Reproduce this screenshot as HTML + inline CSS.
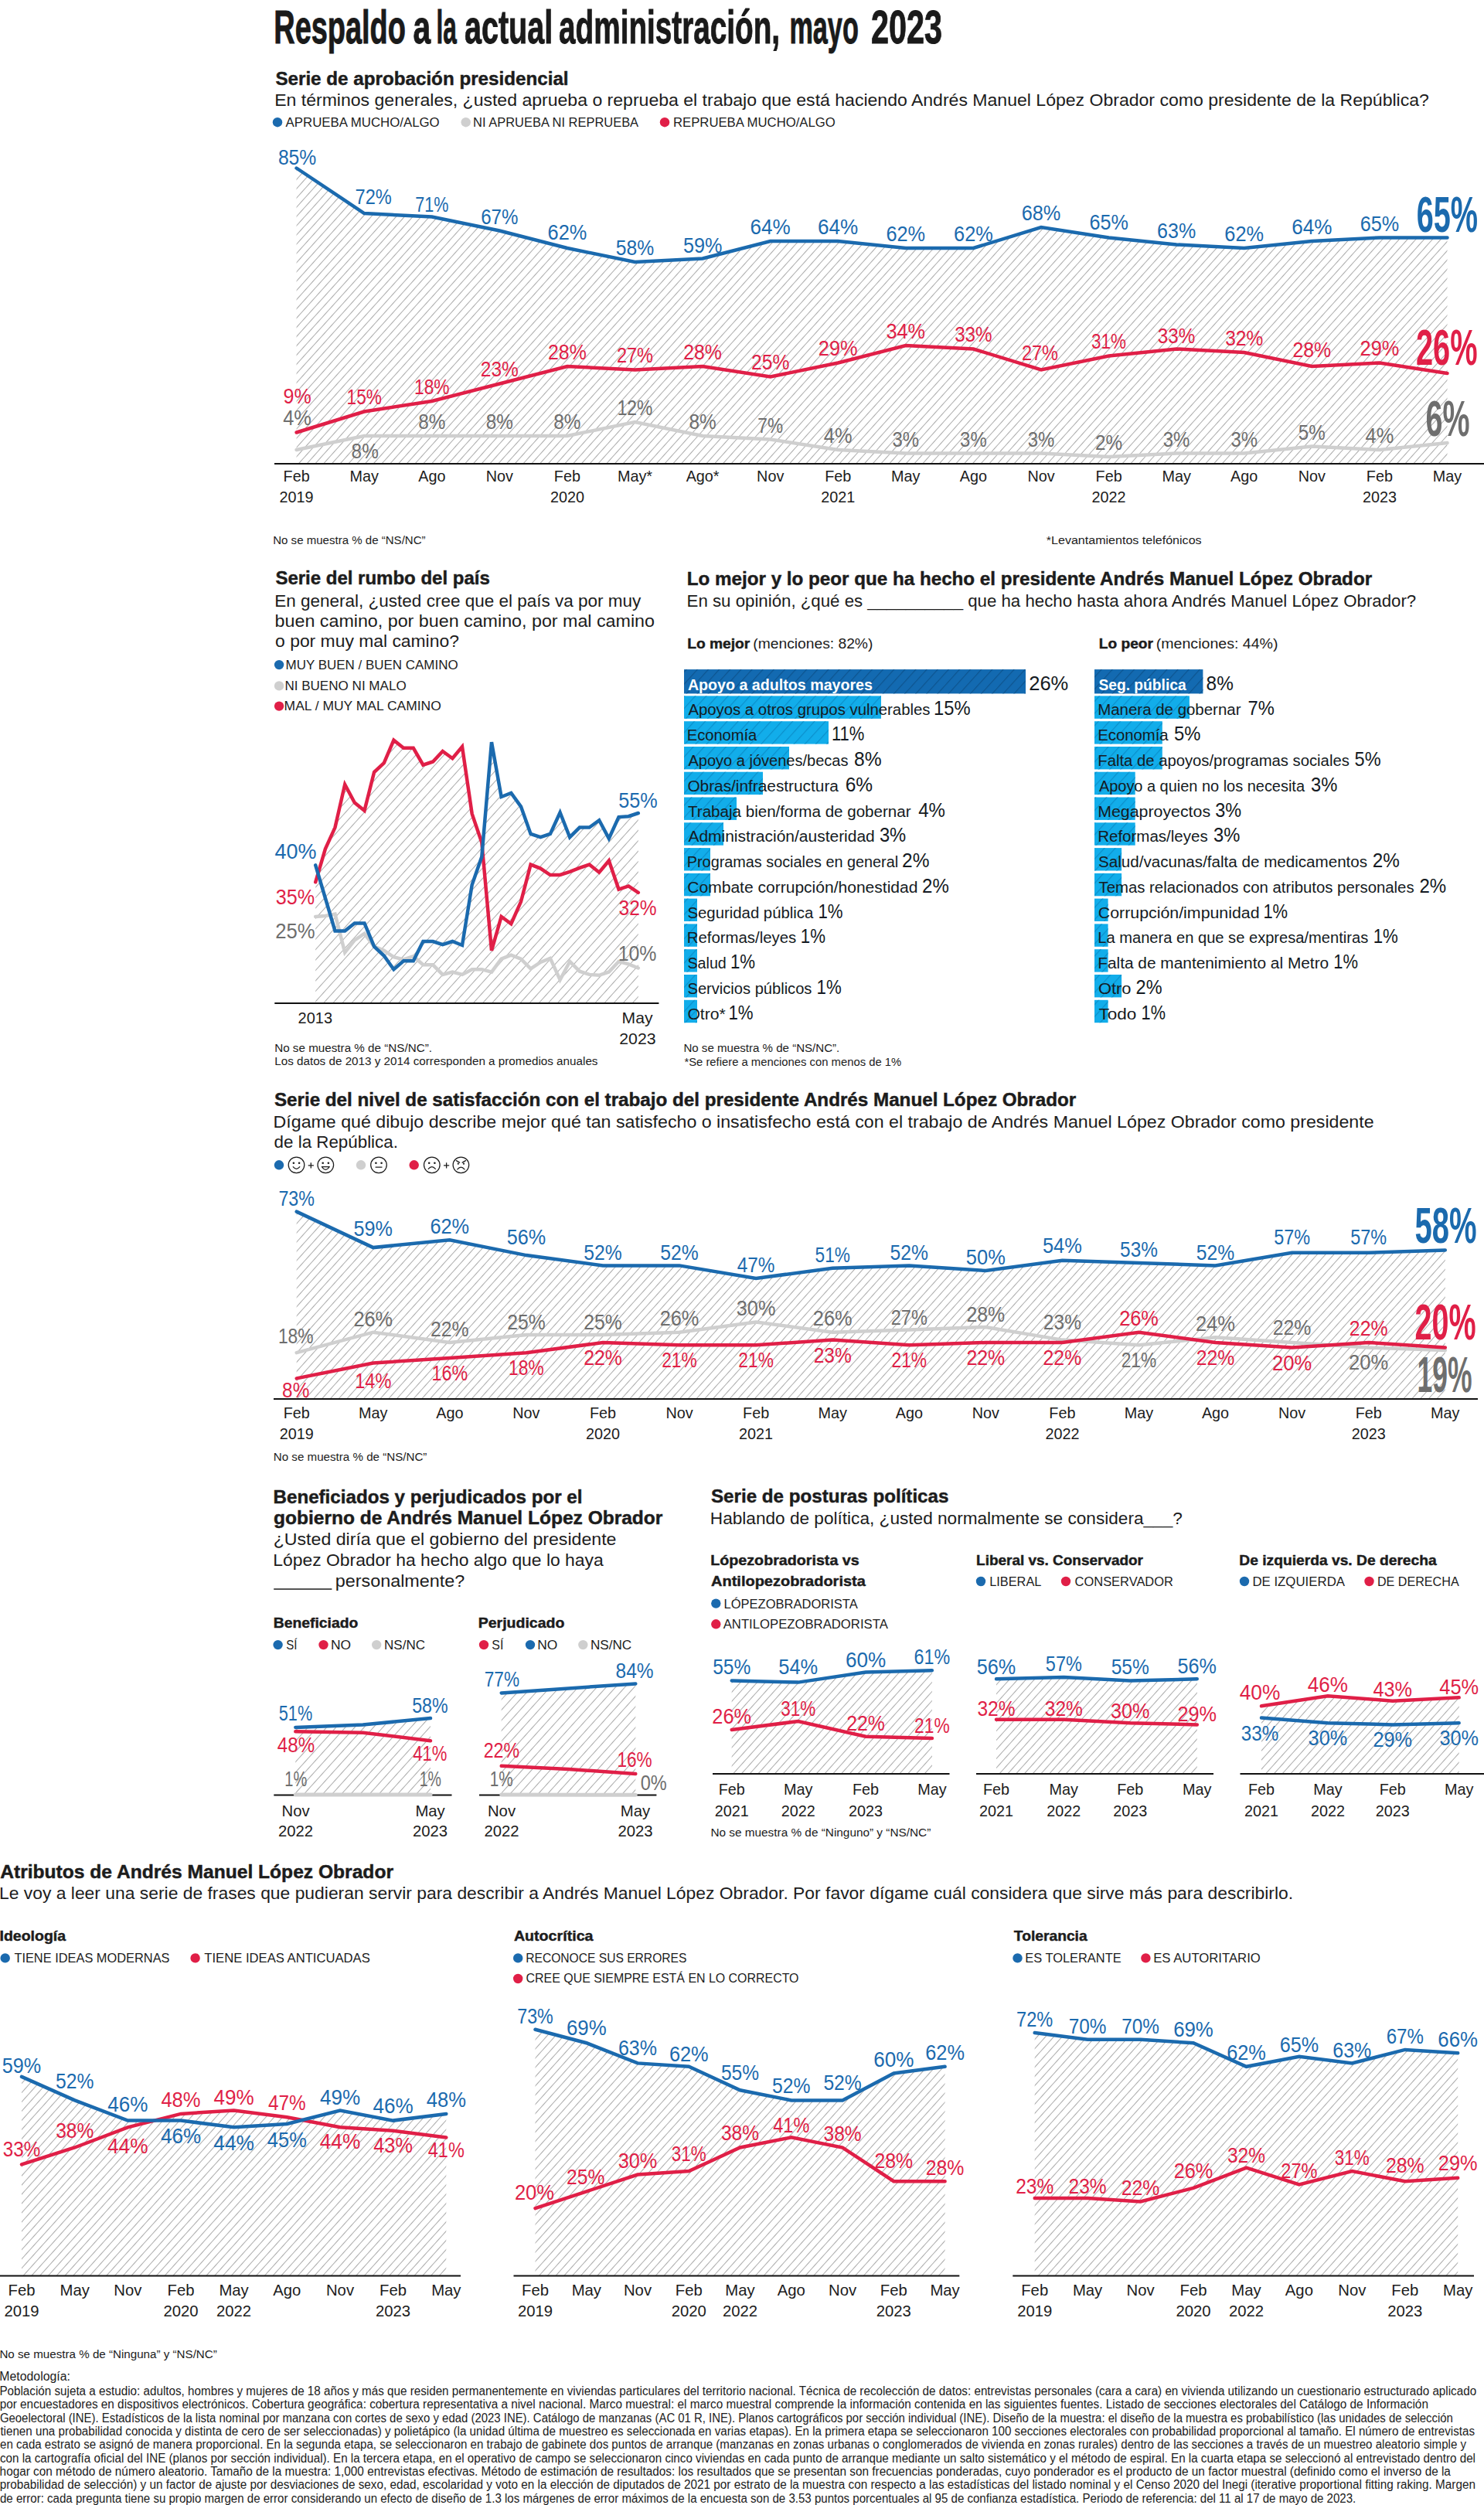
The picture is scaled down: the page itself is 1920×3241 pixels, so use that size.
<!DOCTYPE html>
<html lang="es"><head><meta charset="utf-8"><title>Respaldo a la actual administración, mayo 2023</title>
<style>
html,body{margin:0;padding:0;background:#fff}
body{width:1920px;height:3241px;overflow:hidden;position:relative}
svg{position:absolute;left:0;top:0;display:block}
svg text{font-family:"Liberation Sans",sans-serif}
</style></head><body>
<svg width="1920" height="3241" viewBox="0 0 1920 3241" fill="#1c1c1c">
<defs>
<pattern id="h" width="8" height="8" patternUnits="userSpaceOnUse" patternTransform="rotate(42)"><line x1="0.5" y1="0" x2="0.5" y2="8" stroke="#a6a6a6" stroke-width="0.95"/></pattern>
<pattern id="h2" width="9" height="9" patternUnits="userSpaceOnUse" patternTransform="rotate(42)"><line x1="0.5" y1="0" x2="0.5" y2="9" stroke="#a6a6a6" stroke-width="0.95"/></pattern>
<pattern id="hd" width="10.5" height="10.5" patternUnits="userSpaceOnUse" patternTransform="rotate(42)"><line x1="0.6" y1="0" x2="0.6" y2="10.5" stroke="#0d548f" stroke-width="1.2"/></pattern>
<pattern id="hl" width="10.5" height="10.5" patternUnits="userSpaceOnUse" patternTransform="rotate(42)"><line x1="0.6" y1="0" x2="0.6" y2="10.5" stroke="#0b8fcb" stroke-width="1.2"/></pattern>
</defs>
<text x="354.3" y="55.6" font-size="60.5" textLength="170.6" lengthAdjust="spacingAndGlyphs" font-weight="700" fill="#1a1a1a" stroke="#1a1a1a" stroke-width="1">Respaldo</text>
<text x="534.4" y="55.6" font-size="60.5" textLength="22.6" lengthAdjust="spacingAndGlyphs" font-weight="700" fill="#1a1a1a" stroke="#1a1a1a" stroke-width="1">a</text>
<text x="564.4" y="55.6" font-size="60.5" textLength="26.3" lengthAdjust="spacingAndGlyphs" font-weight="700" fill="#1a1a1a" stroke="#1a1a1a" stroke-width="1">la</text>
<text x="601.1" y="55.6" font-size="60.5" textLength="114.0" lengthAdjust="spacingAndGlyphs" font-weight="700" fill="#1a1a1a" stroke="#1a1a1a" stroke-width="1">actual</text>
<text x="723.1" y="55.6" font-size="60.5" textLength="286.0" lengthAdjust="spacingAndGlyphs" font-weight="700" fill="#1a1a1a" stroke="#1a1a1a" stroke-width="1">administración,</text>
<text x="1021.4" y="55.6" font-size="60.5" textLength="89.4" lengthAdjust="spacingAndGlyphs" font-weight="700" fill="#1a1a1a" stroke="#1a1a1a" stroke-width="1">mayo</text>
<text x="1126.9" y="55.6" font-size="60.5" textLength="92.0" lengthAdjust="spacingAndGlyphs" font-weight="700" fill="#1a1a1a" stroke="#1a1a1a" stroke-width="1">2023</text>
<text x="356.4" y="109.5" font-size="23.5" textLength="379.2" lengthAdjust="spacingAndGlyphs" font-weight="700" stroke="#1c1c1c" stroke-width="0.45">Serie de aprobación presidencial</text>
<text x="355.2" y="136.6" font-size="21.6" textLength="1493.7" lengthAdjust="spacingAndGlyphs">En términos generales, ¿usted aprueba o reprueba el trabajo que está haciendo Andrés Manuel López Obrador como presidente de la República?</text>
<circle cx="359.0" cy="158.2" r="6.2" fill="#1b6aae"/>
<text x="369.6" y="163.9" font-size="17.3" textLength="199.1" lengthAdjust="spacingAndGlyphs">APRUEBA MUCHO/ALGO</text>
<circle cx="602.7" cy="158.2" r="6.2" fill="#cfcfcf"/>
<text x="612.1" y="163.9" font-size="17.3" textLength="214.0" lengthAdjust="spacingAndGlyphs">NI APRUEBA NI REPRUEBA</text>
<circle cx="860.0" cy="158.2" r="6.2" fill="#e01f47"/>
<text x="871.0" y="163.9" font-size="17.3" textLength="209.8" lengthAdjust="spacingAndGlyphs">REPRUEBA MUCHO/ALGO</text>
<polygon points="383.6,217.5 471.2,276.0 558.8,280.5 646.3,298.5 733.9,321.0 821.5,339.0 909.1,334.5 996.7,312.0 1084.2,312.0 1171.8,321.0 1259.4,321.0 1347.0,294.0 1434.6,307.5 1522.1,316.5 1609.7,321.0 1697.3,312.0 1784.9,307.5 1872.5,307.5 1872.5,600.0 383.6,600.0" fill="url(#h)"/>
<polyline points="383.6,582.0 471.2,564.0 558.8,564.0 646.3,564.0 733.9,564.0 821.5,546.0 909.1,564.0 996.7,568.5 1084.2,582.0 1171.8,586.5 1259.4,586.5 1347.0,586.5 1434.6,591.0 1522.1,586.5 1609.7,586.5 1697.3,577.5 1784.9,582.0 1872.5,573.0" fill="none" stroke="#cfcfcf" stroke-width="4.5" stroke-linecap="round" stroke-linejoin="miter"/>
<polyline points="383.6,559.5 471.2,532.5 558.8,519.0 646.3,496.5 733.9,474.0 821.5,478.5 909.1,474.0 996.7,487.5 1084.2,469.5 1171.8,447.0 1259.4,451.5 1347.0,478.5 1434.6,460.5 1522.1,451.5 1609.7,456.0 1697.3,474.0 1784.9,469.5 1872.5,483.0" fill="none" stroke="#e01f47" stroke-width="4.5" stroke-linecap="round" stroke-linejoin="miter"/>
<polyline points="383.6,217.5 471.2,276.0 558.8,280.5 646.3,298.5 733.9,321.0 821.5,339.0 909.1,334.5 996.7,312.0 1084.2,312.0 1171.8,321.0 1259.4,321.0 1347.0,294.0 1434.6,307.5 1522.1,316.5 1609.7,321.0 1697.3,312.0 1784.9,307.5 1872.5,307.5" fill="none" stroke="#1b6aae" stroke-width="4.5" stroke-linecap="round" stroke-linejoin="miter"/>
<line x1="355.0" y1="600.0" x2="1920.0" y2="600.0" stroke="#111" stroke-width="2"/>
<text x="384.6" y="212.8" font-size="27.0" text-anchor="middle" textLength="49.4" lengthAdjust="spacingAndGlyphs" fill="#1b6aae">85%</text>
<text x="483.2" y="263.6" font-size="27.0" text-anchor="middle" textLength="47.2" lengthAdjust="spacingAndGlyphs" fill="#1b6aae">72%</text>
<text x="558.8" y="273.8" font-size="27.0" text-anchor="middle" textLength="43.1" lengthAdjust="spacingAndGlyphs" fill="#1b6aae">71%</text>
<text x="646.3" y="289.8" font-size="27.0" text-anchor="middle" textLength="48.2" lengthAdjust="spacingAndGlyphs" fill="#1b6aae">67%</text>
<text x="733.9" y="309.6" font-size="27.0" text-anchor="middle" textLength="50.7" lengthAdjust="spacingAndGlyphs" fill="#1b6aae">62%</text>
<text x="821.5" y="330.3" font-size="27.0" text-anchor="middle" textLength="49.4" lengthAdjust="spacingAndGlyphs" fill="#1b6aae">58%</text>
<text x="909.1" y="327.1" font-size="27.0" text-anchor="middle" textLength="50.4" lengthAdjust="spacingAndGlyphs" fill="#1b6aae">59%</text>
<text x="996.7" y="303.3" font-size="27.0" text-anchor="middle" textLength="52.2" lengthAdjust="spacingAndGlyphs" fill="#1b6aae">64%</text>
<text x="1084.2" y="303.3" font-size="27.0" text-anchor="middle" textLength="52.2" lengthAdjust="spacingAndGlyphs" fill="#1b6aae">64%</text>
<text x="1171.8" y="312.3" font-size="27.0" text-anchor="middle" textLength="50.7" lengthAdjust="spacingAndGlyphs" fill="#1b6aae">62%</text>
<text x="1259.4" y="312.3" font-size="27.0" text-anchor="middle" textLength="50.7" lengthAdjust="spacingAndGlyphs" fill="#1b6aae">62%</text>
<text x="1347.0" y="285.3" font-size="27.0" text-anchor="middle" textLength="50.7" lengthAdjust="spacingAndGlyphs" fill="#1b6aae">68%</text>
<text x="1434.6" y="297.4" font-size="27.0" text-anchor="middle" textLength="50.4" lengthAdjust="spacingAndGlyphs" fill="#1b6aae">65%</text>
<text x="1522.1" y="307.8" font-size="27.0" text-anchor="middle" textLength="50.1" lengthAdjust="spacingAndGlyphs" fill="#1b6aae">63%</text>
<text x="1609.7" y="312.3" font-size="27.0" text-anchor="middle" textLength="50.7" lengthAdjust="spacingAndGlyphs" fill="#1b6aae">62%</text>
<text x="1697.3" y="303.3" font-size="27.0" text-anchor="middle" textLength="52.2" lengthAdjust="spacingAndGlyphs" fill="#1b6aae">64%</text>
<text x="1784.9" y="298.8" font-size="27.0" text-anchor="middle" textLength="50.4" lengthAdjust="spacingAndGlyphs" fill="#1b6aae">65%</text>
<text x="384.6" y="521.6" font-size="27.0" text-anchor="middle" textLength="36.2" lengthAdjust="spacingAndGlyphs" fill="#e01f47">9%</text>
<text x="471.2" y="523.1" font-size="27.0" text-anchor="middle" textLength="45.3" lengthAdjust="spacingAndGlyphs" fill="#e01f47">15%</text>
<text x="558.8" y="509.6" font-size="27.0" text-anchor="middle" textLength="45.6" lengthAdjust="spacingAndGlyphs" fill="#e01f47">18%</text>
<text x="646.3" y="487.1" font-size="27.0" text-anchor="middle" textLength="49.1" lengthAdjust="spacingAndGlyphs" fill="#e01f47">23%</text>
<text x="733.9" y="464.6" font-size="27.0" text-anchor="middle" textLength="49.7" lengthAdjust="spacingAndGlyphs" fill="#e01f47">28%</text>
<text x="821.5" y="469.1" font-size="27.0" text-anchor="middle" textLength="47.2" lengthAdjust="spacingAndGlyphs" fill="#e01f47">27%</text>
<text x="909.1" y="464.6" font-size="27.0" text-anchor="middle" textLength="49.7" lengthAdjust="spacingAndGlyphs" fill="#e01f47">28%</text>
<text x="996.7" y="478.1" font-size="27.0" text-anchor="middle" textLength="49.4" lengthAdjust="spacingAndGlyphs" fill="#e01f47">25%</text>
<text x="1084.2" y="460.1" font-size="27.0" text-anchor="middle" textLength="50.7" lengthAdjust="spacingAndGlyphs" fill="#e01f47">29%</text>
<text x="1171.8" y="437.6" font-size="27.0" text-anchor="middle" textLength="50.6" lengthAdjust="spacingAndGlyphs" fill="#e01f47">34%</text>
<text x="1259.4" y="442.1" font-size="27.0" text-anchor="middle" textLength="48.5" lengthAdjust="spacingAndGlyphs" fill="#e01f47">33%</text>
<text x="1345.5" y="465.6" font-size="27.0" text-anchor="middle" textLength="47.2" lengthAdjust="spacingAndGlyphs" fill="#e01f47">27%</text>
<text x="1434.6" y="451.1" font-size="27.0" text-anchor="middle" textLength="45.0" lengthAdjust="spacingAndGlyphs" fill="#e01f47">31%</text>
<text x="1522.1" y="443.6" font-size="27.0" text-anchor="middle" textLength="48.5" lengthAdjust="spacingAndGlyphs" fill="#e01f47">33%</text>
<text x="1609.7" y="446.6" font-size="27.0" text-anchor="middle" textLength="49.1" lengthAdjust="spacingAndGlyphs" fill="#e01f47">32%</text>
<text x="1697.3" y="462.4" font-size="27.0" text-anchor="middle" textLength="49.7" lengthAdjust="spacingAndGlyphs" fill="#e01f47">28%</text>
<text x="1784.9" y="460.1" font-size="27.0" text-anchor="middle" textLength="50.7" lengthAdjust="spacingAndGlyphs" fill="#e01f47">29%</text>
<text x="384.6" y="549.6" font-size="27.0" text-anchor="middle" textLength="36.7" lengthAdjust="spacingAndGlyphs" fill="#6e6e6e">4%</text>
<text x="472.2" y="592.6" font-size="27.0" text-anchor="middle" textLength="35.2" lengthAdjust="spacingAndGlyphs" fill="#6e6e6e">8%</text>
<text x="558.8" y="555.1" font-size="27.0" text-anchor="middle" textLength="35.2" lengthAdjust="spacingAndGlyphs" fill="#6e6e6e">8%</text>
<text x="646.3" y="555.1" font-size="27.0" text-anchor="middle" textLength="35.2" lengthAdjust="spacingAndGlyphs" fill="#6e6e6e">8%</text>
<text x="733.9" y="555.1" font-size="27.0" text-anchor="middle" textLength="35.2" lengthAdjust="spacingAndGlyphs" fill="#6e6e6e">8%</text>
<text x="821.5" y="537.1" font-size="27.0" text-anchor="middle" textLength="45.6" lengthAdjust="spacingAndGlyphs" fill="#6e6e6e">12%</text>
<text x="909.1" y="555.1" font-size="27.0" text-anchor="middle" textLength="35.2" lengthAdjust="spacingAndGlyphs" fill="#6e6e6e">8%</text>
<text x="996.7" y="559.6" font-size="27.0" text-anchor="middle" textLength="32.7" lengthAdjust="spacingAndGlyphs" fill="#6e6e6e">7%</text>
<text x="1084.2" y="573.1" font-size="27.0" text-anchor="middle" textLength="36.7" lengthAdjust="spacingAndGlyphs" fill="#6e6e6e">4%</text>
<text x="1171.8" y="577.6" font-size="27.0" text-anchor="middle" textLength="34.6" lengthAdjust="spacingAndGlyphs" fill="#6e6e6e">3%</text>
<text x="1259.4" y="577.6" font-size="27.0" text-anchor="middle" textLength="34.6" lengthAdjust="spacingAndGlyphs" fill="#6e6e6e">3%</text>
<text x="1347.0" y="577.6" font-size="27.0" text-anchor="middle" textLength="34.6" lengthAdjust="spacingAndGlyphs" fill="#6e6e6e">3%</text>
<text x="1434.6" y="582.1" font-size="27.0" text-anchor="middle" textLength="35.2" lengthAdjust="spacingAndGlyphs" fill="#6e6e6e">2%</text>
<text x="1522.1" y="577.6" font-size="27.0" text-anchor="middle" textLength="34.6" lengthAdjust="spacingAndGlyphs" fill="#6e6e6e">3%</text>
<text x="1609.7" y="577.6" font-size="27.0" text-anchor="middle" textLength="34.6" lengthAdjust="spacingAndGlyphs" fill="#6e6e6e">3%</text>
<text x="1697.3" y="568.6" font-size="27.0" text-anchor="middle" textLength="34.9" lengthAdjust="spacingAndGlyphs" fill="#6e6e6e">5%</text>
<text x="1784.9" y="573.1" font-size="27.0" text-anchor="middle" textLength="36.7" lengthAdjust="spacingAndGlyphs" fill="#6e6e6e">4%</text>
<text x="1912.0" y="300.3" font-size="64" text-anchor="end" textLength="79.3" lengthAdjust="spacingAndGlyphs" font-weight="700" fill="#1b6aae">65%</text>
<text x="1911.5" y="471.5" font-size="64" text-anchor="end" textLength="79.5" lengthAdjust="spacingAndGlyphs" font-weight="700" fill="#e01f47">26%</text>
<text x="1901.5" y="564.4" font-size="64" text-anchor="end" textLength="57.0" lengthAdjust="spacingAndGlyphs" font-weight="700" fill="#6e6e6e">6%</text>
<text x="383.6" y="622.7" font-size="19.8" text-anchor="middle">Feb</text>
<text x="383.6" y="649.6" font-size="19.8" text-anchor="middle">2019</text>
<text x="471.2" y="622.7" font-size="19.8" text-anchor="middle">May</text>
<text x="558.8" y="622.7" font-size="19.8" text-anchor="middle">Ago</text>
<text x="646.3" y="622.7" font-size="19.8" text-anchor="middle">Nov</text>
<text x="733.9" y="622.7" font-size="19.8" text-anchor="middle">Feb</text>
<text x="733.9" y="649.6" font-size="19.8" text-anchor="middle">2020</text>
<text x="821.5" y="622.7" font-size="19.8" text-anchor="middle">May*</text>
<text x="909.1" y="622.7" font-size="19.8" text-anchor="middle">Ago*</text>
<text x="996.7" y="622.7" font-size="19.8" text-anchor="middle">Nov</text>
<text x="1084.2" y="622.7" font-size="19.8" text-anchor="middle">Feb</text>
<text x="1084.2" y="649.6" font-size="19.8" text-anchor="middle">2021</text>
<text x="1171.8" y="622.7" font-size="19.8" text-anchor="middle">May</text>
<text x="1259.4" y="622.7" font-size="19.8" text-anchor="middle">Ago</text>
<text x="1347.0" y="622.7" font-size="19.8" text-anchor="middle">Nov</text>
<text x="1434.6" y="622.7" font-size="19.8" text-anchor="middle">Feb</text>
<text x="1434.6" y="649.6" font-size="19.8" text-anchor="middle">2022</text>
<text x="1522.1" y="622.7" font-size="19.8" text-anchor="middle">May</text>
<text x="1609.7" y="622.7" font-size="19.8" text-anchor="middle">Ago</text>
<text x="1697.3" y="622.7" font-size="19.8" text-anchor="middle">Nov</text>
<text x="1784.9" y="622.7" font-size="19.8" text-anchor="middle">Feb</text>
<text x="1784.9" y="649.6" font-size="19.8" text-anchor="middle">2023</text>
<text x="1872.5" y="622.7" font-size="19.8" text-anchor="middle">May</text>
<text x="353.2" y="703.6" font-size="14.7" textLength="197.4" lengthAdjust="spacingAndGlyphs">No se muestra % de “NS/NC”</text>
<text x="1353.8" y="703.6" font-size="14.7" textLength="200.8" lengthAdjust="spacingAndGlyphs">*Levantamientos telefónicos</text>
<text x="356.4" y="756.4" font-size="23.5" textLength="277.4" lengthAdjust="spacingAndGlyphs" font-weight="700" stroke="#1c1c1c" stroke-width="0.45">Serie del rumbo del país</text>
<text x="355.2" y="784.8" font-size="21.6" textLength="474.2" lengthAdjust="spacingAndGlyphs">En general, ¿usted cree que el país va por muy</text>
<text x="355.6" y="811.0" font-size="21.6" textLength="491.4" lengthAdjust="spacingAndGlyphs">buen camino, por buen camino, por mal camino</text>
<text x="356.1" y="837.2" font-size="21.6" textLength="237.8" lengthAdjust="spacingAndGlyphs">o por muy mal camino?</text>
<circle cx="361.1" cy="860.1" r="6.2" fill="#1b6aae"/>
<text x="369.6" y="865.6" font-size="17.3" textLength="223.0" lengthAdjust="spacingAndGlyphs">MUY BUEN / BUEN CAMINO</text>
<circle cx="361.1" cy="887.4" r="6.2" fill="#cfcfcf"/>
<text x="368.4" y="892.9" font-size="17.3" textLength="157.3" lengthAdjust="spacingAndGlyphs">NI BUENO NI MALO</text>
<circle cx="361.1" cy="913.6" r="6.2" fill="#e01f47"/>
<text x="367.6" y="919.0" font-size="17.3" textLength="203.2" lengthAdjust="spacingAndGlyphs">MAL / MUY MAL CAMINO</text>
<polygon points="408.2,1119.4 411.4,1130.3 420.9,1098.4 433.5,1070.6 446.2,1015.0 458.8,1038.5 471.5,1048.7 484.1,999.0 496.8,987.2 509.4,957.7 522.1,967.8 534.8,967.8 547.4,989.7 560.1,985.5 572.7,972.0 585.4,981.3 598.0,966.1 610.7,1052.9 623.3,1090.0 624.1,1099.0 636.0,960.2 648.6,1031.0 661.3,1025.9 674.0,1043.6 686.6,1079.0 699.3,1083.2 711.9,1079.0 724.6,1051.2 737.2,1083.2 749.9,1070.6 762.5,1070.6 775.2,1061.3 787.8,1084.9 800.5,1057.1 813.2,1056.2 825.8,1052.0 825.8,1298.0 408.2,1298.0" fill="url(#h2)"/>
<polyline points="408.2,1186.0 420.9,1185.0 433.5,1182.6 446.2,1232.3 458.8,1216.3 471.5,1207.8 484.1,1224.7 496.8,1229.8 509.4,1238.2 522.1,1241.5 534.8,1237.3 547.4,1248.3 560.1,1248.3 572.7,1260.9 585.4,1257.6 598.0,1260.9 610.7,1254.2 623.3,1254.2 636.0,1257.6 648.6,1240.7 661.3,1235.6 674.0,1240.7 686.6,1253.3 699.3,1244.9 711.9,1239.9 724.6,1267.7 737.2,1244.0 749.9,1256.7 762.5,1260.9 775.2,1261.8 787.8,1257.5 800.5,1244.0 813.2,1247.4 825.8,1252.5" fill="none" stroke="#cfcfcf" stroke-width="4.5" stroke-linecap="round" stroke-linejoin="miter"/>
<polyline points="408.2,1141.3 420.9,1098.4 433.5,1070.6 446.2,1015.0 458.8,1038.5 471.5,1048.7 484.1,999.0 496.8,987.2 509.4,957.7 522.1,967.8 534.8,967.8 547.4,989.7 560.1,985.5 572.7,972.0 585.4,981.3 598.0,966.1 610.7,1052.9 623.3,1090.0 636.0,1229.8 648.6,1186.0 661.3,1195.2 674.0,1166.6 686.6,1118.6 699.3,1123.6 711.9,1132.0 724.6,1132.0 737.2,1127.8 749.9,1122.8 762.5,1118.6 775.2,1128.7 787.8,1113.5 800.5,1150.6 813.2,1146.4 825.8,1154.8" fill="none" stroke="#e01f47" stroke-width="4.5" stroke-linecap="round" stroke-linejoin="miter"/>
<polyline points="408.2,1119.4 420.9,1162.0 433.5,1204.5 446.2,1204.5 458.8,1194.4 471.5,1194.4 484.1,1224.7 496.8,1236.5 509.4,1254.2 522.1,1243.2 534.8,1243.2 547.4,1218.0 560.1,1218.0 572.7,1222.2 585.4,1218.0 598.0,1223.0 610.7,1144.7 623.3,1108.5 636.0,960.2 648.6,1031.0 661.3,1025.9 674.0,1043.6 686.6,1079.0 699.3,1083.2 711.9,1079.0 724.6,1051.2 737.2,1083.2 749.9,1070.6 762.5,1070.6 775.2,1061.3 787.8,1084.9 800.5,1057.1 813.2,1056.2 825.8,1052.0" fill="none" stroke="#1b6aae" stroke-width="4.5" stroke-linecap="round" stroke-linejoin="miter"/>
<line x1="355.3" y1="1298.0" x2="852.4" y2="1298.0" stroke="#111" stroke-width="2"/>
<text x="355.5" y="1110.9" font-size="27.0" textLength="54.0" lengthAdjust="spacingAndGlyphs" fill="#1b6aae">40%</text>
<text x="356.7" y="1169.8" font-size="27.0" textLength="50.4" lengthAdjust="spacingAndGlyphs" fill="#e01f47">35%</text>
<text x="356.3" y="1214.2" font-size="27.0" textLength="51.4" lengthAdjust="spacingAndGlyphs" fill="#6e6e6e">25%</text>
<text x="800.2" y="1045.0" font-size="27.0" textLength="50.5" lengthAdjust="spacingAndGlyphs" fill="#1b6aae">55%</text>
<text x="800.5" y="1184.0" font-size="27.0" textLength="49.1" lengthAdjust="spacingAndGlyphs" fill="#e01f47">32%</text>
<text x="799.7" y="1243.0" font-size="27.0" textLength="49.8" lengthAdjust="spacingAndGlyphs" fill="#6e6e6e">10%</text>
<text x="385.6" y="1324.3" font-size="19.8" textLength="44.4" lengthAdjust="spacingAndGlyphs">2013</text>
<text x="804.6" y="1324.3" font-size="19.8" textLength="39.9" lengthAdjust="spacingAndGlyphs">May</text>
<text x="801.3" y="1351.4" font-size="19.8" textLength="47.3" lengthAdjust="spacingAndGlyphs">2023</text>
<text x="355.2" y="1361.2" font-size="14.7" textLength="203.8" lengthAdjust="spacingAndGlyphs">No se muestra % de “NS/NC”.</text>
<text x="355.2" y="1377.9" font-size="14.7" textLength="418.3" lengthAdjust="spacingAndGlyphs">Los datos de 2013 y 2014 corresponden a promedios anuales</text>
<text x="888.8" y="757.0" font-size="23.5" textLength="886.3" lengthAdjust="spacingAndGlyphs" font-weight="700" stroke="#1c1c1c" stroke-width="0.45">Lo mejor y lo peor que ha hecho el presidente Andrés Manuel López Obrador</text>
<text x="888.6" y="784.9" font-size="21.6" textLength="943.6" lengthAdjust="spacingAndGlyphs">En su opinión, ¿qué es __________ que ha hecho hasta ahora Andrés Manuel López Obrador?</text>
<text x="889.2" y="839.3" font-size="18.8" textLength="81.1" lengthAdjust="spacingAndGlyphs" font-weight="700" stroke="#1c1c1c" stroke-width="0.45">Lo mejor</text>
<text x="974.3" y="839.3" font-size="18.8" textLength="155.1" lengthAdjust="spacingAndGlyphs">(menciones: 82%)</text>
<text x="1421.8" y="839.3" font-size="18.8" textLength="70.2" lengthAdjust="spacingAndGlyphs" font-weight="700" stroke="#1c1c1c" stroke-width="0.45">Lo peor</text>
<text x="1495.8" y="839.3" font-size="18.8" textLength="157.7" lengthAdjust="spacingAndGlyphs">(menciones: 44%)</text>
<rect x="885.0" y="866.1" width="442.0" height="31.3" fill="#136ab1"/>
<rect x="885.0" y="866.1" width="442.0" height="31.3" fill="url(#hd)"/>
<text x="889.9" y="892.8" font-size="19.7" textLength="239.1" lengthAdjust="spacingAndGlyphs" font-weight="700" fill="#fff">Apoyo a adultos mayores</text>
<text x="1331.2" y="892.8" font-size="26" textLength="51.1" lengthAdjust="spacingAndGlyphs" fill="#141a22">26%</text>
<rect x="885.0" y="900.4" width="255.0" height="29.4" fill="#12adea"/>
<rect x="885.0" y="900.4" width="255.0" height="29.4" fill="url(#hl)"/>
<text x="890.4" y="925.4" font-size="19.7" textLength="313.1" lengthAdjust="spacingAndGlyphs" fill="#141a22">Apoyos a otros grupos vulnerables</text>
<text x="1208.1" y="925.4" font-size="26" textLength="47.5" lengthAdjust="spacingAndGlyphs" fill="#141a22">15%</text>
<rect x="885.0" y="933.2" width="187.0" height="29.4" fill="#12adea"/>
<rect x="885.0" y="933.2" width="187.0" height="29.4" fill="url(#hl)"/>
<text x="888.8" y="958.2" font-size="19.7" textLength="90.5" lengthAdjust="spacingAndGlyphs" fill="#141a22">Economía</text>
<text x="1075.9" y="958.2" font-size="26" textLength="42.4" lengthAdjust="spacingAndGlyphs" fill="#141a22">11%</text>
<rect x="885.0" y="966.0" width="136.0" height="29.4" fill="#12adea"/>
<rect x="885.0" y="966.0" width="136.0" height="29.4" fill="url(#hl)"/>
<text x="890.4" y="991.0" font-size="19.7" textLength="207.1" lengthAdjust="spacingAndGlyphs" fill="#141a22">Apoyo a jóvenes/becas</text>
<text x="1105.1" y="991.0" font-size="26" textLength="35.6" lengthAdjust="spacingAndGlyphs" fill="#141a22">8%</text>
<rect x="885.0" y="998.7" width="102.0" height="29.4" fill="#12adea"/>
<rect x="885.0" y="998.7" width="102.0" height="29.4" fill="url(#hl)"/>
<text x="889.4" y="1023.7" font-size="19.7" textLength="195.5" lengthAdjust="spacingAndGlyphs" fill="#141a22">Obras/infraestructura</text>
<text x="1093.7" y="1023.7" font-size="26" textLength="35.4" lengthAdjust="spacingAndGlyphs" fill="#141a22">6%</text>
<rect x="885.0" y="1031.5" width="68.0" height="29.4" fill="#12adea"/>
<rect x="885.0" y="1031.5" width="68.0" height="29.4" fill="url(#hl)"/>
<text x="890.0" y="1056.5" font-size="19.7" textLength="288.6" lengthAdjust="spacingAndGlyphs" fill="#141a22">Trabaja bien/forma de gobernar</text>
<text x="1188.2" y="1056.5" font-size="26" textLength="34.7" lengthAdjust="spacingAndGlyphs" fill="#141a22">4%</text>
<rect x="885.0" y="1064.3" width="51.0" height="29.4" fill="#12adea"/>
<rect x="885.0" y="1064.3" width="51.0" height="29.4" fill="url(#hl)"/>
<text x="890.4" y="1089.3" font-size="19.7" textLength="241.4" lengthAdjust="spacingAndGlyphs" fill="#141a22">Administración/austeridad</text>
<text x="1137.9" y="1089.3" font-size="26" textLength="34.3" lengthAdjust="spacingAndGlyphs" fill="#141a22">3%</text>
<rect x="885.0" y="1097.1" width="34.0" height="29.4" fill="#12adea"/>
<rect x="885.0" y="1097.1" width="34.0" height="29.4" fill="url(#hl)"/>
<text x="888.8" y="1122.1" font-size="19.7" textLength="273.3" lengthAdjust="spacingAndGlyphs" fill="#141a22">Programas sociales en general</text>
<text x="1167.1" y="1122.1" font-size="26" textLength="35.4" lengthAdjust="spacingAndGlyphs" fill="#141a22">2%</text>
<rect x="885.0" y="1129.9" width="34.0" height="29.4" fill="#12adea"/>
<rect x="885.0" y="1129.9" width="34.0" height="29.4" fill="url(#hl)"/>
<text x="889.3" y="1154.9" font-size="19.7" textLength="298.1" lengthAdjust="spacingAndGlyphs" fill="#141a22">Combate corrupción/honestidad</text>
<text x="1193.1" y="1154.9" font-size="26" textLength="34.7" lengthAdjust="spacingAndGlyphs" fill="#141a22">2%</text>
<rect x="885.0" y="1162.6" width="17.0" height="29.4" fill="#12adea"/>
<rect x="885.0" y="1162.6" width="17.0" height="29.4" fill="url(#hl)"/>
<text x="889.5" y="1187.6" font-size="19.7" textLength="162.8" lengthAdjust="spacingAndGlyphs" fill="#141a22">Seguridad pública</text>
<text x="1058.5" y="1187.6" font-size="26" textLength="32.1" lengthAdjust="spacingAndGlyphs" fill="#141a22">1%</text>
<rect x="885.0" y="1195.4" width="17.0" height="29.4" fill="#12adea"/>
<rect x="885.0" y="1195.4" width="17.0" height="29.4" fill="url(#hl)"/>
<text x="888.8" y="1220.4" font-size="19.7" textLength="141.4" lengthAdjust="spacingAndGlyphs" fill="#141a22">Reformas/leyes</text>
<text x="1035.8" y="1220.4" font-size="26" textLength="32.1" lengthAdjust="spacingAndGlyphs" fill="#141a22">1%</text>
<rect x="885.0" y="1228.2" width="17.0" height="29.4" fill="#12adea"/>
<rect x="885.0" y="1228.2" width="17.0" height="29.4" fill="url(#hl)"/>
<text x="889.5" y="1253.2" font-size="19.7" textLength="50.3" lengthAdjust="spacingAndGlyphs" fill="#141a22">Salud</text>
<text x="945.0" y="1253.2" font-size="26" textLength="32.1" lengthAdjust="spacingAndGlyphs" fill="#141a22">1%</text>
<rect x="885.0" y="1261.0" width="17.0" height="29.4" fill="#12adea"/>
<rect x="885.0" y="1261.0" width="17.0" height="29.4" fill="url(#hl)"/>
<text x="889.5" y="1286.0" font-size="19.7" textLength="160.9" lengthAdjust="spacingAndGlyphs" fill="#141a22">Servicios públicos</text>
<text x="1056.6" y="1286.0" font-size="26" textLength="32.1" lengthAdjust="spacingAndGlyphs" fill="#141a22">1%</text>
<rect x="885.0" y="1293.8" width="17.0" height="29.4" fill="#12adea"/>
<rect x="885.0" y="1293.8" width="17.0" height="29.4" fill="url(#hl)"/>
<text x="889.4" y="1318.8" font-size="19.7" textLength="49.4" lengthAdjust="spacingAndGlyphs" fill="#141a22">Otro*</text>
<text x="942.5" y="1318.8" font-size="26" textLength="32.1" lengthAdjust="spacingAndGlyphs" fill="#141a22">1%</text>
<rect x="1416.0" y="866.1" width="140.4" height="31.3" fill="#136ab1"/>
<rect x="1416.0" y="866.1" width="140.4" height="31.3" fill="url(#hd)"/>
<text x="1421.4" y="892.8" font-size="19.7" textLength="113.3" lengthAdjust="spacingAndGlyphs" font-weight="700" fill="#fff">Seg. pública</text>
<text x="1560.6" y="892.8" font-size="26" textLength="35.2" lengthAdjust="spacingAndGlyphs" fill="#141a22">8%</text>
<rect x="1416.0" y="900.4" width="122.9" height="29.4" fill="#12adea"/>
<rect x="1416.0" y="900.4" width="122.9" height="29.4" fill="url(#hl)"/>
<text x="1420.2" y="925.4" font-size="19.7" textLength="185.3" lengthAdjust="spacingAndGlyphs" fill="#141a22">Manera de gobernar</text>
<text x="1614.5" y="925.4" font-size="26" textLength="34.3" lengthAdjust="spacingAndGlyphs" fill="#141a22">7%</text>
<rect x="1416.0" y="933.2" width="87.8" height="29.4" fill="#12adea"/>
<rect x="1416.0" y="933.2" width="87.8" height="29.4" fill="url(#hl)"/>
<text x="1420.3" y="958.2" font-size="19.7" textLength="91.3" lengthAdjust="spacingAndGlyphs" fill="#141a22">Economía</text>
<text x="1519.1" y="958.2" font-size="26" textLength="34.4" lengthAdjust="spacingAndGlyphs" fill="#141a22">5%</text>
<rect x="1416.0" y="966.0" width="87.8" height="29.4" fill="#12adea"/>
<rect x="1416.0" y="966.0" width="87.8" height="29.4" fill="url(#hl)"/>
<text x="1420.3" y="991.0" font-size="19.7" textLength="325.5" lengthAdjust="spacingAndGlyphs" fill="#141a22">Falta de apoyos/programas sociales</text>
<text x="1752.6" y="991.0" font-size="26" textLength="34.0" lengthAdjust="spacingAndGlyphs" fill="#141a22">5%</text>
<rect x="1416.0" y="998.7" width="52.7" height="29.4" fill="#12adea"/>
<rect x="1416.0" y="998.7" width="52.7" height="29.4" fill="url(#hl)"/>
<text x="1421.9" y="1023.7" font-size="19.7" textLength="266.1" lengthAdjust="spacingAndGlyphs" fill="#141a22">Apoyo a quien no los necesita</text>
<text x="1696.0" y="1023.7" font-size="26" textLength="34.3" lengthAdjust="spacingAndGlyphs" fill="#141a22">3%</text>
<rect x="1416.0" y="1031.5" width="52.7" height="29.4" fill="#12adea"/>
<rect x="1416.0" y="1031.5" width="52.7" height="29.4" fill="url(#hl)"/>
<text x="1420.2" y="1056.5" font-size="19.7" textLength="145.9" lengthAdjust="spacingAndGlyphs" fill="#141a22">Megaproyectos</text>
<text x="1572.3" y="1056.5" font-size="26" textLength="33.9" lengthAdjust="spacingAndGlyphs" fill="#141a22">3%</text>
<rect x="1416.0" y="1064.3" width="52.7" height="29.4" fill="#12adea"/>
<rect x="1416.0" y="1064.3" width="52.7" height="29.4" fill="url(#hl)"/>
<text x="1420.2" y="1089.3" font-size="19.7" textLength="142.5" lengthAdjust="spacingAndGlyphs" fill="#141a22">Reformas/leyes</text>
<text x="1570.0" y="1089.3" font-size="26" textLength="34.3" lengthAdjust="spacingAndGlyphs" fill="#141a22">3%</text>
<rect x="1416.0" y="1097.1" width="35.1" height="29.4" fill="#12adea"/>
<rect x="1416.0" y="1097.1" width="35.1" height="29.4" fill="url(#hl)"/>
<text x="1421.0" y="1122.1" font-size="19.7" textLength="348.1" lengthAdjust="spacingAndGlyphs" fill="#141a22">Salud/vacunas/falta de medicamentos</text>
<text x="1775.7" y="1122.1" font-size="26" textLength="35.1" lengthAdjust="spacingAndGlyphs" fill="#141a22">2%</text>
<rect x="1416.0" y="1129.9" width="35.1" height="29.4" fill="#12adea"/>
<rect x="1416.0" y="1129.9" width="35.1" height="29.4" fill="url(#hl)"/>
<text x="1421.5" y="1154.9" font-size="19.7" textLength="408.1" lengthAdjust="spacingAndGlyphs" fill="#141a22">Temas relacionados con atributos personales</text>
<text x="1836.5" y="1154.9" font-size="26" textLength="34.7" lengthAdjust="spacingAndGlyphs" fill="#141a22">2%</text>
<rect x="1416.0" y="1162.6" width="17.6" height="29.4" fill="#12adea"/>
<rect x="1416.0" y="1162.6" width="17.6" height="29.4" fill="url(#hl)"/>
<text x="1420.8" y="1187.6" font-size="19.7" textLength="208.8" lengthAdjust="spacingAndGlyphs" fill="#141a22">Corrupción/impunidad</text>
<text x="1634.4" y="1187.6" font-size="26" textLength="31.7" lengthAdjust="spacingAndGlyphs" fill="#141a22">1%</text>
<rect x="1416.0" y="1195.4" width="17.6" height="29.4" fill="#12adea"/>
<rect x="1416.0" y="1195.4" width="17.6" height="29.4" fill="url(#hl)"/>
<text x="1420.3" y="1220.4" font-size="19.7" textLength="349.9" lengthAdjust="spacingAndGlyphs" fill="#141a22">La manera en que se expresa/mentiras</text>
<text x="1776.7" y="1220.4" font-size="26" textLength="32.1" lengthAdjust="spacingAndGlyphs" fill="#141a22">1%</text>
<rect x="1416.0" y="1228.2" width="17.6" height="29.4" fill="#12adea"/>
<rect x="1416.0" y="1228.2" width="17.6" height="29.4" fill="url(#hl)"/>
<text x="1420.2" y="1253.2" font-size="19.7" textLength="299.0" lengthAdjust="spacingAndGlyphs" fill="#141a22">Falta de mantenimiento al Metro</text>
<text x="1725.2" y="1253.2" font-size="26" textLength="31.7" lengthAdjust="spacingAndGlyphs" fill="#141a22">1%</text>
<rect x="1416.0" y="1261.0" width="35.1" height="29.4" fill="#12adea"/>
<rect x="1416.0" y="1261.0" width="35.1" height="29.4" fill="url(#hl)"/>
<text x="1420.9" y="1286.0" font-size="19.7" textLength="42.6" lengthAdjust="spacingAndGlyphs" fill="#141a22">Otro</text>
<text x="1469.6" y="1286.0" font-size="26" textLength="33.9" lengthAdjust="spacingAndGlyphs" fill="#141a22">2%</text>
<rect x="1416.0" y="1293.8" width="17.6" height="29.4" fill="#12adea"/>
<rect x="1416.0" y="1293.8" width="17.6" height="29.4" fill="url(#hl)"/>
<text x="1421.4" y="1318.8" font-size="19.7" textLength="48.9" lengthAdjust="spacingAndGlyphs" fill="#141a22">Todo</text>
<text x="1476.6" y="1318.8" font-size="26" textLength="31.3" lengthAdjust="spacingAndGlyphs" fill="#141a22">1%</text>
<text x="884.4" y="1361.1" font-size="14.7" textLength="201.9" lengthAdjust="spacingAndGlyphs">No se muestra % de “NS/NC”.</text>
<text x="885.4" y="1378.9" font-size="14.7" textLength="280.8" lengthAdjust="spacingAndGlyphs">*Se refiere a menciones con menos de 1%</text>
<text x="354.9" y="1430.9" font-size="23.5" textLength="1037.3" lengthAdjust="spacingAndGlyphs" font-weight="700" stroke="#1c1c1c" stroke-width="0.45">Serie del nivel de satisfacción con el trabajo del presidente Andrés Manuel López Obrador</text>
<text x="353.6" y="1458.6" font-size="21.6" textLength="1424.0" lengthAdjust="spacingAndGlyphs">Dígame qué dibujo describe mejor qué tan satisfecho o insatisfecho está con el trabajo de Andrés Manuel López Obrador como presidente</text>
<text x="354.6" y="1485.2" font-size="21.6" textLength="160.3" lengthAdjust="spacingAndGlyphs">de la República.</text>
<circle cx="361.0" cy="1507.3" r="6.2" fill="#1b6aae"/>
<g fill="none" stroke="#1c1c1c" stroke-width="1.25" stroke-linecap="round"><circle cx="383.5" cy="1507.3" r="10.3"/><circle cx="379.9" cy="1504.7" r="1.3" fill="#1c1c1c" stroke="none"/><circle cx="387.1" cy="1504.7" r="1.3" fill="#1c1c1c" stroke="none"/><path d="M379.2 1509.7 Q383.5 1514.9 387.8 1509.7"/></g>
<path d="M398.7 1507.8 H405.9 M402.3 1504.2 V1511.4" stroke="#1c1c1c" stroke-width="1.3" fill="none"/>
<g fill="none" stroke="#1c1c1c" stroke-width="1.25" stroke-linecap="round"><circle cx="421.3" cy="1507.3" r="10.3"/><circle cx="417.7" cy="1504.7" r="1.3" fill="#1c1c1c" stroke="none"/><circle cx="424.9" cy="1504.7" r="1.3" fill="#1c1c1c" stroke="none"/><path d="M416.3 1509.5 Q421.3 1517.1 426.3 1509.5 Z" stroke-linejoin="round"/></g>
<circle cx="467.0" cy="1507.3" r="6.2" fill="#cfcfcf"/>
<g fill="none" stroke="#1c1c1c" stroke-width="1.25" stroke-linecap="round"><circle cx="490.0" cy="1507.3" r="10.3"/><circle cx="486.4" cy="1504.7" r="1.3" fill="#1c1c1c" stroke="none"/><circle cx="493.6" cy="1504.7" r="1.3" fill="#1c1c1c" stroke="none"/><path d="M486.0 1510.1 H494.0"/></g>
<circle cx="535.7" cy="1507.3" r="6.2" fill="#e01f47"/>
<g fill="none" stroke="#1c1c1c" stroke-width="1.25" stroke-linecap="round"><circle cx="558.8" cy="1507.3" r="10.3"/><circle cx="555.2" cy="1504.7" r="1.3" fill="#1c1c1c" stroke="none"/><circle cx="562.4" cy="1504.7" r="1.3" fill="#1c1c1c" stroke="none"/><path d="M554.2 1512.3 Q558.8 1506.7 563.4 1512.3"/></g>
<path d="M574.0 1507.8 H581.2 M577.6 1504.2 V1511.4" stroke="#1c1c1c" stroke-width="1.3" fill="none"/>
<g fill="none" stroke="#1c1c1c" stroke-width="1.25" stroke-linecap="round"><circle cx="596.4" cy="1507.3" r="10.3"/><circle cx="592.8" cy="1505.7" r="1.1" fill="#1c1c1c" stroke="none"/><circle cx="600.0" cy="1505.7" r="1.1" fill="#1c1c1c" stroke="none"/><path d="M590.4 1501.7 L594.6 1504.1 M602.4 1501.7 L598.2 1504.1" stroke-width="1.4"/><path d="M591.8 1512.9 Q596.4 1507.1 601.0 1512.9"/></g>
<polygon points="383.7,1567.6 482.8,1614.1 581.8,1604.2 680.9,1624.1 780.0,1637.4 879.0,1637.4 978.1,1654.0 1077.2,1640.7 1176.3,1637.4 1275.3,1644.0 1374.4,1630.7 1473.5,1634.0 1572.5,1637.4 1671.6,1620.8 1770.7,1620.8 1869.8,1617.4 1869.8,1810.0 383.7,1810.0" fill="url(#h)"/>
<polyline points="383.7,1750.2 482.8,1723.7 581.8,1737.0 680.9,1727.0 780.0,1727.0 879.0,1723.7 978.1,1710.4 1077.2,1723.7 1176.3,1720.4 1275.3,1717.0 1374.4,1733.6 1473.5,1740.3 1572.5,1730.3 1671.6,1737.0 1770.7,1743.6 1869.8,1746.9" fill="none" stroke="#cfcfcf" stroke-width="4.5" stroke-linecap="round" stroke-linejoin="miter"/>
<polyline points="383.7,1783.4 482.8,1763.5 581.8,1756.9 680.9,1750.2 780.0,1737.0 879.0,1740.3 978.1,1740.3 1077.2,1733.6 1176.3,1740.3 1275.3,1737.0 1374.4,1737.0 1473.5,1723.7 1572.5,1737.0 1671.6,1743.6 1770.7,1737.0 1869.8,1743.6" fill="none" stroke="#e01f47" stroke-width="4.5" stroke-linecap="round" stroke-linejoin="miter"/>
<polyline points="383.7,1567.6 482.8,1614.1 581.8,1604.2 680.9,1624.1 780.0,1637.4 879.0,1637.4 978.1,1654.0 1077.2,1640.7 1176.3,1637.4 1275.3,1644.0 1374.4,1630.7 1473.5,1634.0 1572.5,1637.4 1671.6,1620.8 1770.7,1620.8 1869.8,1617.4" fill="none" stroke="#1b6aae" stroke-width="4.5" stroke-linecap="round" stroke-linejoin="miter"/>
<line x1="354.0" y1="1810.0" x2="1912.0" y2="1810.0" stroke="#111" stroke-width="2"/>
<text x="383.7" y="1559.7" font-size="27.0" text-anchor="middle" textLength="46.6" lengthAdjust="spacingAndGlyphs" fill="#1b6aae">73%</text>
<text x="482.8" y="1598.7" font-size="27.0" text-anchor="middle" textLength="50.4" lengthAdjust="spacingAndGlyphs" fill="#1b6aae">59%</text>
<text x="581.8" y="1596.3" font-size="27.0" text-anchor="middle" textLength="50.7" lengthAdjust="spacingAndGlyphs" fill="#1b6aae">62%</text>
<text x="680.9" y="1609.7" font-size="27.0" text-anchor="middle" textLength="50.4" lengthAdjust="spacingAndGlyphs" fill="#1b6aae">56%</text>
<text x="780.0" y="1629.5" font-size="27.0" text-anchor="middle" textLength="49.4" lengthAdjust="spacingAndGlyphs" fill="#1b6aae">52%</text>
<text x="879.0" y="1629.5" font-size="27.0" text-anchor="middle" textLength="49.4" lengthAdjust="spacingAndGlyphs" fill="#1b6aae">52%</text>
<text x="978.1" y="1646.1" font-size="27.0" text-anchor="middle" textLength="48.7" lengthAdjust="spacingAndGlyphs" fill="#1b6aae">47%</text>
<text x="1077.2" y="1632.8" font-size="27.0" text-anchor="middle" textLength="45.3" lengthAdjust="spacingAndGlyphs" fill="#1b6aae">51%</text>
<text x="1176.3" y="1629.5" font-size="27.0" text-anchor="middle" textLength="49.4" lengthAdjust="spacingAndGlyphs" fill="#1b6aae">52%</text>
<text x="1275.3" y="1636.1" font-size="27.0" text-anchor="middle" textLength="50.9" lengthAdjust="spacingAndGlyphs" fill="#1b6aae">50%</text>
<text x="1374.4" y="1621.3" font-size="27.0" text-anchor="middle" textLength="50.9" lengthAdjust="spacingAndGlyphs" fill="#1b6aae">54%</text>
<text x="1473.5" y="1626.1" font-size="27.0" text-anchor="middle" textLength="48.8" lengthAdjust="spacingAndGlyphs" fill="#1b6aae">53%</text>
<text x="1572.5" y="1629.5" font-size="27.0" text-anchor="middle" textLength="49.4" lengthAdjust="spacingAndGlyphs" fill="#1b6aae">52%</text>
<text x="1671.6" y="1610.4" font-size="27.0" text-anchor="middle" textLength="46.9" lengthAdjust="spacingAndGlyphs" fill="#1b6aae">57%</text>
<text x="1770.7" y="1610.4" font-size="27.0" text-anchor="middle" textLength="46.9" lengthAdjust="spacingAndGlyphs" fill="#1b6aae">57%</text>
<text x="382.7" y="1738.2" font-size="27.0" text-anchor="middle" textLength="45.6" lengthAdjust="spacingAndGlyphs" fill="#6e6e6e">18%</text>
<text x="482.8" y="1716.3" font-size="27.0" text-anchor="middle" textLength="50.7" lengthAdjust="spacingAndGlyphs" fill="#6e6e6e">26%</text>
<text x="581.8" y="1728.6" font-size="27.0" text-anchor="middle" textLength="49.7" lengthAdjust="spacingAndGlyphs" fill="#6e6e6e">22%</text>
<text x="680.9" y="1720.0" font-size="27.0" text-anchor="middle" textLength="49.4" lengthAdjust="spacingAndGlyphs" fill="#6e6e6e">25%</text>
<text x="780.0" y="1720.0" font-size="27.0" text-anchor="middle" textLength="49.4" lengthAdjust="spacingAndGlyphs" fill="#6e6e6e">25%</text>
<text x="879.0" y="1715.3" font-size="27.0" text-anchor="middle" textLength="50.7" lengthAdjust="spacingAndGlyphs" fill="#6e6e6e">26%</text>
<text x="978.1" y="1702.0" font-size="27.0" text-anchor="middle" textLength="50.6" lengthAdjust="spacingAndGlyphs" fill="#6e6e6e">30%</text>
<text x="1077.2" y="1715.3" font-size="27.0" text-anchor="middle" textLength="50.7" lengthAdjust="spacingAndGlyphs" fill="#6e6e6e">26%</text>
<text x="1176.3" y="1713.5" font-size="27.0" text-anchor="middle" textLength="47.2" lengthAdjust="spacingAndGlyphs" fill="#6e6e6e">27%</text>
<text x="1275.3" y="1710.1" font-size="27.0" text-anchor="middle" textLength="49.7" lengthAdjust="spacingAndGlyphs" fill="#6e6e6e">28%</text>
<text x="1374.4" y="1720.2" font-size="27.0" text-anchor="middle" textLength="49.1" lengthAdjust="spacingAndGlyphs" fill="#6e6e6e">23%</text>
<text x="1473.5" y="1768.9" font-size="27.0" text-anchor="middle" textLength="45.6" lengthAdjust="spacingAndGlyphs" fill="#6e6e6e">21%</text>
<text x="1572.5" y="1721.9" font-size="27.0" text-anchor="middle" textLength="51.2" lengthAdjust="spacingAndGlyphs" fill="#6e6e6e">24%</text>
<text x="1671.6" y="1726.6" font-size="27.0" text-anchor="middle" textLength="49.7" lengthAdjust="spacingAndGlyphs" fill="#6e6e6e">22%</text>
<text x="1770.7" y="1771.7" font-size="27.0" text-anchor="middle" textLength="51.2" lengthAdjust="spacingAndGlyphs" fill="#6e6e6e">20%</text>
<text x="382.7" y="1808.0" font-size="27.0" text-anchor="middle" textLength="35.2" lengthAdjust="spacingAndGlyphs" fill="#e01f47">8%</text>
<text x="482.8" y="1795.6" font-size="27.0" text-anchor="middle" textLength="47.1" lengthAdjust="spacingAndGlyphs" fill="#e01f47">14%</text>
<text x="581.8" y="1786.0" font-size="27.0" text-anchor="middle" textLength="46.6" lengthAdjust="spacingAndGlyphs" fill="#e01f47">16%</text>
<text x="680.9" y="1779.3" font-size="27.0" text-anchor="middle" textLength="45.6" lengthAdjust="spacingAndGlyphs" fill="#e01f47">18%</text>
<text x="780.0" y="1766.1" font-size="27.0" text-anchor="middle" textLength="49.7" lengthAdjust="spacingAndGlyphs" fill="#e01f47">22%</text>
<text x="879.0" y="1769.4" font-size="27.0" text-anchor="middle" textLength="45.6" lengthAdjust="spacingAndGlyphs" fill="#e01f47">21%</text>
<text x="978.1" y="1769.4" font-size="27.0" text-anchor="middle" textLength="45.6" lengthAdjust="spacingAndGlyphs" fill="#e01f47">21%</text>
<text x="1077.2" y="1762.7" font-size="27.0" text-anchor="middle" textLength="49.1" lengthAdjust="spacingAndGlyphs" fill="#e01f47">23%</text>
<text x="1176.3" y="1769.4" font-size="27.0" text-anchor="middle" textLength="45.6" lengthAdjust="spacingAndGlyphs" fill="#e01f47">21%</text>
<text x="1275.3" y="1766.1" font-size="27.0" text-anchor="middle" textLength="49.7" lengthAdjust="spacingAndGlyphs" fill="#e01f47">22%</text>
<text x="1374.4" y="1766.1" font-size="27.0" text-anchor="middle" textLength="49.7" lengthAdjust="spacingAndGlyphs" fill="#e01f47">22%</text>
<text x="1473.5" y="1714.8" font-size="27.0" text-anchor="middle" textLength="50.7" lengthAdjust="spacingAndGlyphs" fill="#e01f47">26%</text>
<text x="1572.5" y="1766.1" font-size="27.0" text-anchor="middle" textLength="49.7" lengthAdjust="spacingAndGlyphs" fill="#e01f47">22%</text>
<text x="1671.6" y="1772.7" font-size="27.0" text-anchor="middle" textLength="51.2" lengthAdjust="spacingAndGlyphs" fill="#e01f47">20%</text>
<text x="1770.7" y="1728.1" font-size="27.0" text-anchor="middle" textLength="49.7" lengthAdjust="spacingAndGlyphs" fill="#e01f47">22%</text>
<text x="1910.5" y="1607.6" font-size="64" text-anchor="end" textLength="80.0" lengthAdjust="spacingAndGlyphs" font-weight="700" fill="#1b6aae">58%</text>
<text x="1909.5" y="1732.5" font-size="64" text-anchor="end" textLength="79.0" lengthAdjust="spacingAndGlyphs" font-weight="700" fill="#e01f47">20%</text>
<text x="1904.5" y="1801.2" font-size="64" text-anchor="end" textLength="71.0" lengthAdjust="spacingAndGlyphs" font-weight="700" fill="#6e6e6e">19%</text>
<text x="383.7" y="1835.0" font-size="19.8" text-anchor="middle">Feb</text>
<text x="383.7" y="1862.0" font-size="19.8" text-anchor="middle">2019</text>
<text x="482.8" y="1835.0" font-size="19.8" text-anchor="middle">May</text>
<text x="581.8" y="1835.0" font-size="19.8" text-anchor="middle">Ago</text>
<text x="680.9" y="1835.0" font-size="19.8" text-anchor="middle">Nov</text>
<text x="780.0" y="1835.0" font-size="19.8" text-anchor="middle">Feb</text>
<text x="780.0" y="1862.0" font-size="19.8" text-anchor="middle">2020</text>
<text x="879.0" y="1835.0" font-size="19.8" text-anchor="middle">Nov</text>
<text x="978.1" y="1835.0" font-size="19.8" text-anchor="middle">Feb</text>
<text x="978.1" y="1862.0" font-size="19.8" text-anchor="middle">2021</text>
<text x="1077.2" y="1835.0" font-size="19.8" text-anchor="middle">May</text>
<text x="1176.3" y="1835.0" font-size="19.8" text-anchor="middle">Ago</text>
<text x="1275.3" y="1835.0" font-size="19.8" text-anchor="middle">Nov</text>
<text x="1374.4" y="1835.0" font-size="19.8" text-anchor="middle">Feb</text>
<text x="1374.4" y="1862.0" font-size="19.8" text-anchor="middle">2022</text>
<text x="1473.5" y="1835.0" font-size="19.8" text-anchor="middle">May</text>
<text x="1572.5" y="1835.0" font-size="19.8" text-anchor="middle">Ago</text>
<text x="1671.6" y="1835.0" font-size="19.8" text-anchor="middle">Nov</text>
<text x="1770.7" y="1835.0" font-size="19.8" text-anchor="middle">Feb</text>
<text x="1770.7" y="1862.0" font-size="19.8" text-anchor="middle">2023</text>
<text x="1869.8" y="1835.0" font-size="19.8" text-anchor="middle">May</text>
<text x="353.8" y="1889.7" font-size="14.7" textLength="198.6" lengthAdjust="spacingAndGlyphs">No se muestra % de “NS/NC”</text>
<text x="353.5" y="1944.7" font-size="23.5" textLength="400.0" lengthAdjust="spacingAndGlyphs" font-weight="700" stroke="#1c1c1c" stroke-width="0.45">Beneficiados y perjudicados por el</text>
<text x="354.1" y="1972.3" font-size="23.5" textLength="503.3" lengthAdjust="spacingAndGlyphs" font-weight="700" stroke="#1c1c1c" stroke-width="0.45">gobierno de Andrés Manuel López Obrador</text>
<text x="353.7" y="1999.4" font-size="21.6" textLength="443.8" lengthAdjust="spacingAndGlyphs">¿Usted diría que el gobierno del presidente</text>
<text x="353.3" y="2026.2" font-size="21.6" textLength="427.4" lengthAdjust="spacingAndGlyphs">López Obrador ha hecho algo que lo haya</text>
<line x1="354.2" y1="2056" x2="429.4" y2="2056" stroke="#1c1c1c" stroke-width="1.3"/>
<text x="433.7" y="2052.6" font-size="21.6" textLength="167.6" lengthAdjust="spacingAndGlyphs">personalmente?</text>
<text x="353.8" y="2106.2" font-size="19" textLength="109.5" lengthAdjust="spacingAndGlyphs" font-weight="700" stroke="#1c1c1c" stroke-width="0.45">Beneficiado</text>
<circle cx="359.6" cy="2128.1" r="6.2" fill="#1b6aae"/>
<text x="370.3" y="2133.8" font-size="17.3" textLength="14.2" lengthAdjust="spacingAndGlyphs">SÍ</text>
<circle cx="418.5" cy="2128.1" r="6.2" fill="#e01f47"/>
<text x="428.0" y="2133.8" font-size="17.3" textLength="26.1" lengthAdjust="spacingAndGlyphs">NO</text>
<circle cx="487.2" cy="2128.1" r="6.2" fill="#cfcfcf"/>
<text x="497.1" y="2133.8" font-size="17.3" textLength="52.9" lengthAdjust="spacingAndGlyphs">NS/NC</text>
<text x="618.7" y="2106.2" font-size="19" textLength="111.7" lengthAdjust="spacingAndGlyphs" font-weight="700" stroke="#1c1c1c" stroke-width="0.45">Perjudicado</text>
<circle cx="626.0" cy="2128.1" r="6.2" fill="#e01f47"/>
<text x="636.3" y="2133.8" font-size="17.3" textLength="15.0" lengthAdjust="spacingAndGlyphs">SÍ</text>
<circle cx="686.0" cy="2128.1" r="6.2" fill="#1b6aae"/>
<text x="695.2" y="2133.8" font-size="17.3" textLength="26.1" lengthAdjust="spacingAndGlyphs">NO</text>
<circle cx="754.3" cy="2128.1" r="6.2" fill="#cfcfcf"/>
<text x="763.9" y="2133.8" font-size="17.3" textLength="53.3" lengthAdjust="spacingAndGlyphs">NS/NC</text>
<polygon points="382.3,2235.0 469.6,2231.6 557.0,2223.0 557.0,2322.5 382.3,2322.5" fill="url(#h2)"/>
<line x1="354.3" y1="2322.5" x2="584.5" y2="2322.5" stroke="#111" stroke-width="2"/>
<polyline points="382.3,2321.9 557.0,2321.9" fill="none" stroke="#cfcfcf" stroke-width="5" stroke-linecap="round" stroke-linejoin="miter"/>
<polyline points="382.3,2240.2 469.6,2241.7 557.0,2252.2" fill="none" stroke="#e01f47" stroke-width="4.5" stroke-linecap="round" stroke-linejoin="miter"/>
<polyline points="382.3,2235.0 469.6,2231.6 557.0,2223.0" fill="none" stroke="#1b6aae" stroke-width="4.5" stroke-linecap="round" stroke-linejoin="miter"/>
<text x="382.5" y="2226.2" font-size="27.0" text-anchor="middle" textLength="43.4" lengthAdjust="spacingAndGlyphs" fill="#1b6aae">51%</text>
<text x="556.4" y="2216.4" font-size="27.0" text-anchor="middle" textLength="46.4" lengthAdjust="spacingAndGlyphs" fill="#1b6aae">58%</text>
<text x="383.0" y="2266.6" font-size="27.0" text-anchor="middle" textLength="48.3" lengthAdjust="spacingAndGlyphs" fill="#e01f47">48%</text>
<text x="556.4" y="2277.9" font-size="27.0" text-anchor="middle" textLength="44.2" lengthAdjust="spacingAndGlyphs" fill="#e01f47">41%</text>
<text x="382.8" y="2310.8" font-size="27.0" text-anchor="middle" textLength="29.0" lengthAdjust="spacingAndGlyphs" fill="#6e6e6e">1%</text>
<text x="556.8" y="2310.8" font-size="27.0" text-anchor="middle" textLength="28.3" lengthAdjust="spacingAndGlyphs" fill="#6e6e6e">1%</text>
<polygon points="648.7,2190.4 735.5,2184.4 822.3,2178.4 822.3,2322.5 648.7,2322.5" fill="url(#h2)"/>
<line x1="620.0" y1="2322.5" x2="849.4" y2="2322.5" stroke="#111" stroke-width="2"/>
<polyline points="648.7,2321.9 822.3,2322.3" fill="none" stroke="#cfcfcf" stroke-width="5" stroke-linecap="round" stroke-linejoin="miter"/>
<polyline points="648.7,2284.8 735.5,2288.9 822.3,2295.1" fill="none" stroke="#e01f47" stroke-width="4.5" stroke-linecap="round" stroke-linejoin="miter"/>
<polyline points="648.7,2190.4 735.5,2184.4 822.3,2178.4" fill="none" stroke="#1b6aae" stroke-width="4.5" stroke-linecap="round" stroke-linejoin="miter"/>
<text x="649.4" y="2181.7" font-size="27.0" text-anchor="middle" textLength="45.3" lengthAdjust="spacingAndGlyphs" fill="#1b6aae">77%</text>
<text x="821.1" y="2171.1" font-size="27.0" text-anchor="middle" textLength="49.0" lengthAdjust="spacingAndGlyphs" fill="#1b6aae">84%</text>
<text x="648.9" y="2274.2" font-size="27.0" text-anchor="middle" textLength="46.4" lengthAdjust="spacingAndGlyphs" fill="#e01f47">22%</text>
<text x="821.1" y="2286.2" font-size="27.0" text-anchor="middle" textLength="45.3" lengthAdjust="spacingAndGlyphs" fill="#e01f47">16%</text>
<text x="648.7" y="2310.8" font-size="27.0" text-anchor="middle" textLength="30.0" lengthAdjust="spacingAndGlyphs" fill="#6e6e6e">1%</text>
<text x="845.7" y="2315.7" font-size="27.0" text-anchor="middle" textLength="34.0" lengthAdjust="spacingAndGlyphs" fill="#6e6e6e">0%</text>
<text x="382.6" y="2349.6" font-size="20.3" text-anchor="middle">Nov</text>
<text x="382.6" y="2376.0" font-size="20.3" text-anchor="middle">2022</text>
<text x="556.6" y="2349.6" font-size="20.3" text-anchor="middle">May</text>
<text x="556.6" y="2376.0" font-size="20.3" text-anchor="middle">2023</text>
<text x="649.0" y="2349.6" font-size="20.3" text-anchor="middle">Nov</text>
<text x="649.0" y="2376.0" font-size="20.3" text-anchor="middle">2022</text>
<text x="822.0" y="2349.6" font-size="20.3" text-anchor="middle">May</text>
<text x="822.0" y="2376.0" font-size="20.3" text-anchor="middle">2023</text>
<text x="920.0" y="1944.4" font-size="23.5" textLength="307.4" lengthAdjust="spacingAndGlyphs" font-weight="700" stroke="#1c1c1c" stroke-width="0.45">Serie de posturas políticas</text>
<text x="918.8" y="1971.9" font-size="21.6" textLength="611.0" lengthAdjust="spacingAndGlyphs">Hablando de política, ¿usted normalmente se considera___?</text>
<text x="919.3" y="2024.8" font-size="19" textLength="192.4" lengthAdjust="spacingAndGlyphs" font-weight="700" stroke="#1c1c1c" stroke-width="0.45">Lópezobradorista vs</text>
<text x="920.1" y="2052.3" font-size="19" textLength="199.7" lengthAdjust="spacingAndGlyphs" font-weight="700" stroke="#1c1c1c" stroke-width="0.45">Antilopezobradorista</text>
<circle cx="926.3" cy="2074.6" r="6.2" fill="#1b6aae"/>
<text x="936.5" y="2080.6" font-size="17.3" textLength="173.2" lengthAdjust="spacingAndGlyphs">LÓPEZOBRADORISTA</text>
<circle cx="926.3" cy="2101.3" r="6.2" fill="#e01f47"/>
<text x="935.7" y="2107.3" font-size="17.3" textLength="213.1" lengthAdjust="spacingAndGlyphs">ANTILOPEZOBRADORISTA</text>
<text x="1263.1" y="2024.8" font-size="19" textLength="215.9" lengthAdjust="spacingAndGlyphs" font-weight="700" stroke="#1c1c1c" stroke-width="0.45">Liberal vs. Conservador</text>
<circle cx="1269.0" cy="2046.0" r="6.2" fill="#1b6aae"/>
<text x="1280.2" y="2052.3" font-size="17.3" textLength="67.2" lengthAdjust="spacingAndGlyphs">LIBERAL</text>
<circle cx="1379.0" cy="2046.0" r="6.2" fill="#e01f47"/>
<text x="1390.6" y="2052.3" font-size="17.3" textLength="127.3" lengthAdjust="spacingAndGlyphs">CONSERVADOR</text>
<text x="1603.3" y="2024.8" font-size="19" textLength="255.4" lengthAdjust="spacingAndGlyphs" font-weight="700" stroke="#1c1c1c" stroke-width="0.45">De izquierda vs. De derecha</text>
<circle cx="1610.0" cy="2046.0" r="6.2" fill="#1b6aae"/>
<text x="1620.4" y="2052.3" font-size="17.3" textLength="119.6" lengthAdjust="spacingAndGlyphs">DE IZQUIERDA</text>
<circle cx="1771.5" cy="2046.0" r="6.2" fill="#e01f47"/>
<text x="1781.9" y="2052.3" font-size="17.3" textLength="105.8" lengthAdjust="spacingAndGlyphs">DE DERECHA</text>
<polygon points="946.7,2174.5 1032.7,2176.6 1120.0,2163.5 1205.9,2161.3 1205.9,2294.9 946.7,2294.9" fill="url(#h)"/>
<polyline points="946.7,2238.0 1032.7,2227.0 1120.0,2246.7 1205.9,2248.9" fill="none" stroke="#e01f47" stroke-width="4.5" stroke-linecap="round" stroke-linejoin="miter"/>
<polyline points="946.7,2174.5 1032.7,2176.6 1120.0,2163.5 1205.9,2161.3" fill="none" stroke="#1b6aae" stroke-width="4.5" stroke-linecap="round" stroke-linejoin="miter"/>
<line x1="922.0" y1="2294.9" x2="1228.5" y2="2294.9" stroke="#111" stroke-width="2"/>
<text x="946.7" y="2166.4" font-size="27.0" text-anchor="middle" textLength="49.1" lengthAdjust="spacingAndGlyphs" fill="#1b6aae">55%</text>
<text x="1032.7" y="2166.3" font-size="27.0" text-anchor="middle" textLength="50.9" lengthAdjust="spacingAndGlyphs" fill="#1b6aae">54%</text>
<text x="1120.0" y="2156.6" font-size="27.0" text-anchor="middle" textLength="52.2" lengthAdjust="spacingAndGlyphs" fill="#1b6aae">60%</text>
<text x="1205.9" y="2152.5" font-size="27.0" text-anchor="middle" textLength="46.6" lengthAdjust="spacingAndGlyphs" fill="#1b6aae">61%</text>
<text x="946.7" y="2229.9" font-size="27.0" text-anchor="middle" textLength="50.7" lengthAdjust="spacingAndGlyphs" fill="#e01f47">26%</text>
<text x="1032.7" y="2219.9" font-size="27.0" text-anchor="middle" textLength="45.0" lengthAdjust="spacingAndGlyphs" fill="#e01f47">31%</text>
<text x="1120.0" y="2239.1" font-size="27.0" text-anchor="middle" textLength="49.7" lengthAdjust="spacingAndGlyphs" fill="#e01f47">22%</text>
<text x="1205.9" y="2241.9" font-size="27.0" text-anchor="middle" textLength="45.6" lengthAdjust="spacingAndGlyphs" fill="#e01f47">21%</text>
<text x="946.7" y="2322.4" font-size="19.8" text-anchor="middle">Feb</text>
<text x="946.7" y="2349.9" font-size="19.8" text-anchor="middle">2021</text>
<text x="1032.7" y="2322.4" font-size="19.8" text-anchor="middle">May</text>
<text x="1032.7" y="2349.9" font-size="19.8" text-anchor="middle">2022</text>
<text x="1120.0" y="2322.4" font-size="19.8" text-anchor="middle">Feb</text>
<text x="1120.0" y="2349.9" font-size="19.8" text-anchor="middle">2023</text>
<text x="1205.9" y="2322.4" font-size="19.8" text-anchor="middle">May</text>
<polygon points="1289.0,2172.3 1376.3,2170.1 1462.2,2174.5 1548.8,2172.3 1548.8,2294.9 1289.0,2294.9" fill="url(#h)"/>
<polyline points="1289.0,2224.8 1376.3,2224.8 1462.2,2229.2 1548.8,2231.4" fill="none" stroke="#e01f47" stroke-width="4.5" stroke-linecap="round" stroke-linejoin="miter"/>
<polyline points="1289.0,2172.3 1376.3,2170.1 1462.2,2174.5 1548.8,2172.3" fill="none" stroke="#1b6aae" stroke-width="4.5" stroke-linecap="round" stroke-linejoin="miter"/>
<line x1="1263.0" y1="2294.9" x2="1570.0" y2="2294.9" stroke="#111" stroke-width="2"/>
<text x="1289.0" y="2166.3" font-size="27.0" text-anchor="middle" textLength="50.4" lengthAdjust="spacingAndGlyphs" fill="#1b6aae">56%</text>
<text x="1376.3" y="2161.5" font-size="27.0" text-anchor="middle" textLength="46.9" lengthAdjust="spacingAndGlyphs" fill="#1b6aae">57%</text>
<text x="1462.2" y="2166.2" font-size="27.0" text-anchor="middle" textLength="49.1" lengthAdjust="spacingAndGlyphs" fill="#1b6aae">55%</text>
<text x="1548.8" y="2164.9" font-size="27.0" text-anchor="middle" textLength="50.4" lengthAdjust="spacingAndGlyphs" fill="#1b6aae">56%</text>
<text x="1289.0" y="2219.9" font-size="27.0" text-anchor="middle" textLength="49.1" lengthAdjust="spacingAndGlyphs" fill="#e01f47">32%</text>
<text x="1376.3" y="2219.9" font-size="27.0" text-anchor="middle" textLength="49.1" lengthAdjust="spacingAndGlyphs" fill="#e01f47">32%</text>
<text x="1462.2" y="2223.3" font-size="27.0" text-anchor="middle" textLength="50.6" lengthAdjust="spacingAndGlyphs" fill="#e01f47">30%</text>
<text x="1548.8" y="2226.7" font-size="27.0" text-anchor="middle" textLength="50.7" lengthAdjust="spacingAndGlyphs" fill="#e01f47">29%</text>
<text x="1289.0" y="2322.4" font-size="19.8" text-anchor="middle">Feb</text>
<text x="1289.0" y="2349.9" font-size="19.8" text-anchor="middle">2021</text>
<text x="1376.3" y="2322.4" font-size="19.8" text-anchor="middle">May</text>
<text x="1376.3" y="2349.9" font-size="19.8" text-anchor="middle">2022</text>
<text x="1462.2" y="2322.4" font-size="19.8" text-anchor="middle">Feb</text>
<text x="1462.2" y="2349.9" font-size="19.8" text-anchor="middle">2023</text>
<text x="1548.8" y="2322.4" font-size="19.8" text-anchor="middle">May</text>
<polygon points="1632.0,2207.3 1717.9,2194.2 1801.8,2200.7 1887.7,2196.3 1887.7,2294.9 1632.0,2294.9" fill="url(#h)"/>
<polyline points="1632.0,2222.6 1717.9,2229.2 1801.8,2231.4 1887.7,2229.2" fill="none" stroke="#1b6aae" stroke-width="4.5" stroke-linecap="round" stroke-linejoin="miter"/>
<polyline points="1632.0,2207.3 1717.9,2194.2 1801.8,2200.7 1887.7,2196.3" fill="none" stroke="#e01f47" stroke-width="4.5" stroke-linecap="round" stroke-linejoin="miter"/>
<line x1="1604.5" y1="2294.9" x2="1920.0" y2="2294.9" stroke="#111" stroke-width="2"/>
<text x="1630.0" y="2199.3" font-size="27.0" text-anchor="middle" textLength="52.7" lengthAdjust="spacingAndGlyphs" fill="#e01f47">40%</text>
<text x="1717.9" y="2189.0" font-size="27.0" text-anchor="middle" textLength="52.2" lengthAdjust="spacingAndGlyphs" fill="#e01f47">46%</text>
<text x="1801.8" y="2194.5" font-size="27.0" text-anchor="middle" textLength="50.6" lengthAdjust="spacingAndGlyphs" fill="#e01f47">43%</text>
<text x="1887.7" y="2192.3" font-size="27.0" text-anchor="middle" textLength="50.9" lengthAdjust="spacingAndGlyphs" fill="#e01f47">45%</text>
<text x="1630.0" y="2252.2" font-size="27.0" text-anchor="middle" textLength="48.5" lengthAdjust="spacingAndGlyphs" fill="#1b6aae">33%</text>
<text x="1717.9" y="2257.8" font-size="27.0" text-anchor="middle" textLength="50.6" lengthAdjust="spacingAndGlyphs" fill="#1b6aae">30%</text>
<text x="1801.8" y="2259.8" font-size="27.0" text-anchor="middle" textLength="50.7" lengthAdjust="spacingAndGlyphs" fill="#1b6aae">29%</text>
<text x="1887.7" y="2257.8" font-size="27.0" text-anchor="middle" textLength="50.6" lengthAdjust="spacingAndGlyphs" fill="#1b6aae">30%</text>
<text x="1632.0" y="2322.4" font-size="19.8" text-anchor="middle">Feb</text>
<text x="1632.0" y="2349.9" font-size="19.8" text-anchor="middle">2021</text>
<text x="1717.9" y="2322.4" font-size="19.8" text-anchor="middle">May</text>
<text x="1717.9" y="2349.9" font-size="19.8" text-anchor="middle">2022</text>
<text x="1801.8" y="2322.4" font-size="19.8" text-anchor="middle">Feb</text>
<text x="1801.8" y="2349.9" font-size="19.8" text-anchor="middle">2023</text>
<text x="1887.7" y="2322.4" font-size="19.8" text-anchor="middle">May</text>
<text x="919.4" y="2376.0" font-size="14.7" textLength="284.9" lengthAdjust="spacingAndGlyphs">No se muestra % de “Ninguno” y “NS/NC”</text>
<text x="0.2" y="2430.2" font-size="23.5" textLength="508.8" lengthAdjust="spacingAndGlyphs" font-weight="700" stroke="#1c1c1c" stroke-width="0.45">Atributos de Andrés Manuel López Obrador</text>
<text x="-1.0" y="2456.9" font-size="21.6" textLength="1674.1" lengthAdjust="spacingAndGlyphs">Le voy a leer una serie de frases que pudieran servir para describir a Andrés Manuel López Obrador. Por favor dígame cuál considera que sirve más para describirlo.</text>
<text x="-0.5" y="2511.2" font-size="19" textLength="85.6" lengthAdjust="spacingAndGlyphs" font-weight="700" stroke="#1c1c1c" stroke-width="0.45">Ideología</text>
<circle cx="6.7" cy="2533.4" r="6.2" fill="#1b6aae"/>
<text x="18.4" y="2538.8" font-size="17.3" textLength="201.1" lengthAdjust="spacingAndGlyphs">TIENE IDEAS MODERNAS</text>
<circle cx="252.6" cy="2533.4" r="6.2" fill="#e01f47"/>
<text x="264.3" y="2538.8" font-size="17.3" textLength="214.5" lengthAdjust="spacingAndGlyphs">TIENE IDEAS ANTICUADAS</text>
<polygon points="28.0,2686.9 96.7,2717.4 165.3,2743.6 199.6,2743.6 234.0,2734.9 302.6,2730.5 371.3,2739.2 390.9,2743.0 440.0,2730.5 508.6,2743.6 577.3,2734.9 577.3,2944.4 28.0,2944.4" fill="url(#h)"/>
<polyline points="28.0,2800.4 96.7,2778.5 165.3,2752.3 234.0,2734.9 302.6,2730.5 371.3,2739.2 440.0,2752.3 508.6,2756.7 577.3,2765.4" fill="none" stroke="#e01f47" stroke-width="4.5" stroke-linecap="round" stroke-linejoin="miter"/>
<polyline points="28.0,2686.9 96.7,2717.4 165.3,2743.6 234.0,2743.6 302.6,2752.3 371.3,2748.0 440.0,2730.5 508.6,2743.6 577.3,2734.9" fill="none" stroke="#1b6aae" stroke-width="4.5" stroke-linecap="round" stroke-linejoin="miter"/>
<line x1="0.0" y1="2944.4" x2="596.0" y2="2944.4" stroke="#111" stroke-width="2"/>
<text x="28.0" y="2681.9" font-size="27.0" text-anchor="middle" textLength="50.4" lengthAdjust="spacingAndGlyphs" fill="#1b6aae">59%</text>
<text x="96.7" y="2701.9" font-size="27.0" text-anchor="middle" textLength="49.4" lengthAdjust="spacingAndGlyphs" fill="#1b6aae">52%</text>
<text x="165.3" y="2731.7" font-size="27.0" text-anchor="middle" textLength="52.2" lengthAdjust="spacingAndGlyphs" fill="#1b6aae">46%</text>
<text x="234.0" y="2773.1" font-size="27.0" text-anchor="middle" textLength="52.2" lengthAdjust="spacingAndGlyphs" fill="#1b6aae">46%</text>
<text x="302.6" y="2782.0" font-size="27.0" text-anchor="middle" textLength="52.7" lengthAdjust="spacingAndGlyphs" fill="#1b6aae">44%</text>
<text x="371.3" y="2778.4" font-size="27.0" text-anchor="middle" textLength="50.9" lengthAdjust="spacingAndGlyphs" fill="#1b6aae">45%</text>
<text x="440.0" y="2722.8" font-size="27.0" text-anchor="middle" textLength="52.2" lengthAdjust="spacingAndGlyphs" fill="#1b6aae">49%</text>
<text x="508.6" y="2734.4" font-size="27.0" text-anchor="middle" textLength="52.2" lengthAdjust="spacingAndGlyphs" fill="#1b6aae">46%</text>
<text x="577.3" y="2726.4" font-size="27.0" text-anchor="middle" textLength="51.2" lengthAdjust="spacingAndGlyphs" fill="#1b6aae">48%</text>
<text x="28.0" y="2790.0" font-size="27.0" text-anchor="middle" textLength="48.5" lengthAdjust="spacingAndGlyphs" fill="#e01f47">33%</text>
<text x="96.7" y="2766.4" font-size="27.0" text-anchor="middle" textLength="49.1" lengthAdjust="spacingAndGlyphs" fill="#e01f47">38%</text>
<text x="165.3" y="2786.4" font-size="27.0" text-anchor="middle" textLength="52.7" lengthAdjust="spacingAndGlyphs" fill="#e01f47">44%</text>
<text x="234.0" y="2726.4" font-size="27.0" text-anchor="middle" textLength="51.2" lengthAdjust="spacingAndGlyphs" fill="#e01f47">48%</text>
<text x="302.6" y="2722.8" font-size="27.0" text-anchor="middle" textLength="52.2" lengthAdjust="spacingAndGlyphs" fill="#e01f47">49%</text>
<text x="371.3" y="2729.9" font-size="27.0" text-anchor="middle" textLength="48.7" lengthAdjust="spacingAndGlyphs" fill="#e01f47">47%</text>
<text x="440.0" y="2779.6" font-size="27.0" text-anchor="middle" textLength="52.7" lengthAdjust="spacingAndGlyphs" fill="#e01f47">44%</text>
<text x="508.6" y="2785.0" font-size="27.0" text-anchor="middle" textLength="50.6" lengthAdjust="spacingAndGlyphs" fill="#e01f47">43%</text>
<text x="577.3" y="2790.9" font-size="27.0" text-anchor="middle" textLength="47.1" lengthAdjust="spacingAndGlyphs" fill="#e01f47">41%</text>
<text x="28.0" y="2970.0" font-size="20.3" text-anchor="middle">Feb</text>
<text x="28.0" y="2997.1" font-size="20.3" text-anchor="middle">2019</text>
<text x="96.7" y="2970.0" font-size="20.3" text-anchor="middle">May</text>
<text x="165.3" y="2970.0" font-size="20.3" text-anchor="middle">Nov</text>
<text x="234.0" y="2970.0" font-size="20.3" text-anchor="middle">Feb</text>
<text x="234.0" y="2997.1" font-size="20.3" text-anchor="middle">2020</text>
<text x="302.6" y="2970.0" font-size="20.3" text-anchor="middle">May</text>
<text x="302.6" y="2997.1" font-size="20.3" text-anchor="middle">2022</text>
<text x="371.3" y="2970.0" font-size="20.3" text-anchor="middle">Ago</text>
<text x="440.0" y="2970.0" font-size="20.3" text-anchor="middle">Nov</text>
<text x="508.6" y="2970.0" font-size="20.3" text-anchor="middle">Feb</text>
<text x="508.6" y="2997.1" font-size="20.3" text-anchor="middle">2023</text>
<text x="577.3" y="2970.0" font-size="20.3" text-anchor="middle">May</text>
<text x="664.9" y="2511.1" font-size="19" textLength="102.6" lengthAdjust="spacingAndGlyphs" font-weight="700" stroke="#1c1c1c" stroke-width="0.45">Autocrítica</text>
<circle cx="670.2" cy="2533.4" r="6.2" fill="#1b6aae"/>
<text x="680.2" y="2538.7" font-size="17.3" textLength="208.2" lengthAdjust="spacingAndGlyphs">RECONOCE SUS ERRORES</text>
<circle cx="670.2" cy="2560.0" r="6.2" fill="#e01f47"/>
<text x="680.6" y="2565.4" font-size="17.3" textLength="352.9" lengthAdjust="spacingAndGlyphs">CREE QUE SIEMPRE ESTÁ EN LO CORRECTO</text>
<polygon points="692.5,2625.8 758.8,2643.2 825.0,2669.4 891.3,2673.8 957.5,2704.3 1023.8,2717.4 1090.1,2717.4 1156.3,2682.5 1222.6,2673.8 1222.6,2944.4 692.5,2944.4" fill="url(#h)"/>
<polyline points="692.5,2857.1 758.8,2835.3 825.0,2813.5 891.3,2809.1 957.5,2778.5 1023.8,2765.4 1090.1,2778.5 1156.3,2822.2 1222.6,2822.2" fill="none" stroke="#e01f47" stroke-width="4.5" stroke-linecap="round" stroke-linejoin="miter"/>
<polyline points="692.5,2625.8 758.8,2643.2 825.0,2669.4 891.3,2673.8 957.5,2704.3 1023.8,2717.4 1090.1,2717.4 1156.3,2682.5 1222.6,2673.8" fill="none" stroke="#1b6aae" stroke-width="4.5" stroke-linecap="round" stroke-linejoin="miter"/>
<line x1="664.5" y1="2944.4" x2="1241.3" y2="2944.4" stroke="#111" stroke-width="2"/>
<text x="692.5" y="2617.6" font-size="27.0" text-anchor="middle" textLength="46.6" lengthAdjust="spacingAndGlyphs" fill="#1b6aae">73%</text>
<text x="758.8" y="2633.1" font-size="27.0" text-anchor="middle" textLength="51.7" lengthAdjust="spacingAndGlyphs" fill="#1b6aae">69%</text>
<text x="825.0" y="2659.0" font-size="27.0" text-anchor="middle" textLength="50.1" lengthAdjust="spacingAndGlyphs" fill="#1b6aae">63%</text>
<text x="891.3" y="2666.6" font-size="27.0" text-anchor="middle" textLength="50.7" lengthAdjust="spacingAndGlyphs" fill="#1b6aae">62%</text>
<text x="957.5" y="2691.0" font-size="27.0" text-anchor="middle" textLength="49.1" lengthAdjust="spacingAndGlyphs" fill="#1b6aae">55%</text>
<text x="1023.8" y="2707.5" font-size="27.0" text-anchor="middle" textLength="49.4" lengthAdjust="spacingAndGlyphs" fill="#1b6aae">52%</text>
<text x="1090.1" y="2704.4" font-size="27.0" text-anchor="middle" textLength="49.4" lengthAdjust="spacingAndGlyphs" fill="#1b6aae">52%</text>
<text x="1156.3" y="2673.8" font-size="27.0" text-anchor="middle" textLength="52.2" lengthAdjust="spacingAndGlyphs" fill="#1b6aae">60%</text>
<text x="1222.6" y="2665.1" font-size="27.0" text-anchor="middle" textLength="50.7" lengthAdjust="spacingAndGlyphs" fill="#1b6aae">62%</text>
<text x="691.5" y="2846.0" font-size="27.0" text-anchor="middle" textLength="51.2" lengthAdjust="spacingAndGlyphs" fill="#e01f47">20%</text>
<text x="757.8" y="2825.6" font-size="27.0" text-anchor="middle" textLength="49.4" lengthAdjust="spacingAndGlyphs" fill="#e01f47">25%</text>
<text x="825.0" y="2804.8" font-size="27.0" text-anchor="middle" textLength="50.6" lengthAdjust="spacingAndGlyphs" fill="#e01f47">30%</text>
<text x="891.3" y="2795.7" font-size="27.0" text-anchor="middle" textLength="45.0" lengthAdjust="spacingAndGlyphs" fill="#e01f47">31%</text>
<text x="957.5" y="2769.0" font-size="27.0" text-anchor="middle" textLength="49.1" lengthAdjust="spacingAndGlyphs" fill="#e01f47">38%</text>
<text x="1023.8" y="2758.7" font-size="27.0" text-anchor="middle" textLength="47.1" lengthAdjust="spacingAndGlyphs" fill="#e01f47">41%</text>
<text x="1090.1" y="2769.8" font-size="27.0" text-anchor="middle" textLength="49.1" lengthAdjust="spacingAndGlyphs" fill="#e01f47">38%</text>
<text x="1156.3" y="2804.6" font-size="27.0" text-anchor="middle" textLength="49.7" lengthAdjust="spacingAndGlyphs" fill="#e01f47">28%</text>
<text x="1222.6" y="2813.5" font-size="27.0" text-anchor="middle" textLength="49.7" lengthAdjust="spacingAndGlyphs" fill="#e01f47">28%</text>
<text x="692.5" y="2969.7" font-size="20.3" text-anchor="middle">Feb</text>
<text x="692.5" y="2996.9" font-size="20.3" text-anchor="middle">2019</text>
<text x="758.8" y="2969.7" font-size="20.3" text-anchor="middle">May</text>
<text x="825.0" y="2969.7" font-size="20.3" text-anchor="middle">Nov</text>
<text x="891.3" y="2969.7" font-size="20.3" text-anchor="middle">Feb</text>
<text x="891.3" y="2996.9" font-size="20.3" text-anchor="middle">2020</text>
<text x="957.5" y="2969.7" font-size="20.3" text-anchor="middle">May</text>
<text x="957.5" y="2996.9" font-size="20.3" text-anchor="middle">2022</text>
<text x="1023.8" y="2969.7" font-size="20.3" text-anchor="middle">Ago</text>
<text x="1090.1" y="2969.7" font-size="20.3" text-anchor="middle">Nov</text>
<text x="1156.3" y="2969.7" font-size="20.3" text-anchor="middle">Feb</text>
<text x="1156.3" y="2996.9" font-size="20.3" text-anchor="middle">2023</text>
<text x="1222.6" y="2969.7" font-size="20.3" text-anchor="middle">May</text>
<text x="1311.8" y="2511.1" font-size="19" textLength="94.9" lengthAdjust="spacingAndGlyphs" font-weight="700" stroke="#1c1c1c" stroke-width="0.45">Tolerancia</text>
<circle cx="1316.5" cy="2533.4" r="6.2" fill="#1b6aae"/>
<text x="1326.3" y="2538.7" font-size="17.3" textLength="124.3" lengthAdjust="spacingAndGlyphs">ES TOLERANTE</text>
<circle cx="1482.4" cy="2533.4" r="6.2" fill="#e01f47"/>
<text x="1492.2" y="2538.7" font-size="17.3" textLength="138.6" lengthAdjust="spacingAndGlyphs">ES AUTORITARIO</text>
<polygon points="1338.7,2630.1 1407.1,2638.8 1475.6,2638.8 1544.0,2643.2 1612.5,2673.8 1680.9,2660.7 1749.3,2669.4 1817.8,2651.9 1886.2,2656.3 1886.2,2944.4 1338.7,2944.4" fill="url(#h)"/>
<polyline points="1338.7,2844.0 1407.1,2844.0 1475.6,2848.4 1544.0,2830.9 1612.5,2804.7 1680.9,2826.5 1749.3,2809.1 1817.8,2822.2 1886.2,2817.8" fill="none" stroke="#e01f47" stroke-width="4.5" stroke-linecap="round" stroke-linejoin="miter"/>
<polyline points="1338.7,2630.1 1407.1,2638.8 1475.6,2638.8 1544.0,2643.2 1612.5,2673.8 1680.9,2660.7 1749.3,2669.4 1817.8,2651.9 1886.2,2656.3" fill="none" stroke="#1b6aae" stroke-width="4.5" stroke-linecap="round" stroke-linejoin="miter"/>
<line x1="1310.3" y1="2944.4" x2="1907.0" y2="2944.4" stroke="#111" stroke-width="2"/>
<text x="1338.7" y="2621.9" font-size="27.0" text-anchor="middle" textLength="47.2" lengthAdjust="spacingAndGlyphs" fill="#1b6aae">72%</text>
<text x="1407.1" y="2630.6" font-size="27.0" text-anchor="middle" textLength="48.7" lengthAdjust="spacingAndGlyphs" fill="#1b6aae">70%</text>
<text x="1475.6" y="2630.6" font-size="27.0" text-anchor="middle" textLength="48.7" lengthAdjust="spacingAndGlyphs" fill="#1b6aae">70%</text>
<text x="1544.0" y="2635.0" font-size="27.0" text-anchor="middle" textLength="51.7" lengthAdjust="spacingAndGlyphs" fill="#1b6aae">69%</text>
<text x="1612.5" y="2664.9" font-size="27.0" text-anchor="middle" textLength="50.7" lengthAdjust="spacingAndGlyphs" fill="#1b6aae">62%</text>
<text x="1680.9" y="2655.0" font-size="27.0" text-anchor="middle" textLength="50.4" lengthAdjust="spacingAndGlyphs" fill="#1b6aae">65%</text>
<text x="1749.3" y="2661.7" font-size="27.0" text-anchor="middle" textLength="50.1" lengthAdjust="spacingAndGlyphs" fill="#1b6aae">63%</text>
<text x="1817.8" y="2643.7" font-size="27.0" text-anchor="middle" textLength="48.2" lengthAdjust="spacingAndGlyphs" fill="#1b6aae">67%</text>
<text x="1886.2" y="2648.1" font-size="27.0" text-anchor="middle" textLength="51.7" lengthAdjust="spacingAndGlyphs" fill="#1b6aae">66%</text>
<text x="1338.7" y="2837.5" font-size="27.0" text-anchor="middle" textLength="49.1" lengthAdjust="spacingAndGlyphs" fill="#e01f47">23%</text>
<text x="1407.1" y="2837.5" font-size="27.0" text-anchor="middle" textLength="49.1" lengthAdjust="spacingAndGlyphs" fill="#e01f47">23%</text>
<text x="1475.6" y="2839.7" font-size="27.0" text-anchor="middle" textLength="49.7" lengthAdjust="spacingAndGlyphs" fill="#e01f47">22%</text>
<text x="1544.0" y="2818.4" font-size="27.0" text-anchor="middle" textLength="50.7" lengthAdjust="spacingAndGlyphs" fill="#e01f47">26%</text>
<text x="1612.5" y="2798.4" font-size="27.0" text-anchor="middle" textLength="49.1" lengthAdjust="spacingAndGlyphs" fill="#e01f47">32%</text>
<text x="1680.9" y="2818.3" font-size="27.0" text-anchor="middle" textLength="47.2" lengthAdjust="spacingAndGlyphs" fill="#e01f47">27%</text>
<text x="1749.3" y="2800.9" font-size="27.0" text-anchor="middle" textLength="45.0" lengthAdjust="spacingAndGlyphs" fill="#e01f47">31%</text>
<text x="1817.8" y="2810.8" font-size="27.0" text-anchor="middle" textLength="49.7" lengthAdjust="spacingAndGlyphs" fill="#e01f47">28%</text>
<text x="1886.2" y="2807.6" font-size="27.0" text-anchor="middle" textLength="50.7" lengthAdjust="spacingAndGlyphs" fill="#e01f47">29%</text>
<text x="1338.7" y="2969.7" font-size="20.3" text-anchor="middle">Feb</text>
<text x="1338.7" y="2996.9" font-size="20.3" text-anchor="middle">2019</text>
<text x="1407.1" y="2969.7" font-size="20.3" text-anchor="middle">May</text>
<text x="1475.6" y="2969.7" font-size="20.3" text-anchor="middle">Nov</text>
<text x="1544.0" y="2969.7" font-size="20.3" text-anchor="middle">Feb</text>
<text x="1544.0" y="2996.9" font-size="20.3" text-anchor="middle">2020</text>
<text x="1612.5" y="2969.7" font-size="20.3" text-anchor="middle">May</text>
<text x="1612.5" y="2996.9" font-size="20.3" text-anchor="middle">2022</text>
<text x="1680.9" y="2969.7" font-size="20.3" text-anchor="middle">Ago</text>
<text x="1749.3" y="2969.7" font-size="20.3" text-anchor="middle">Nov</text>
<text x="1817.8" y="2969.7" font-size="20.3" text-anchor="middle">Feb</text>
<text x="1817.8" y="2996.9" font-size="20.3" text-anchor="middle">2023</text>
<text x="1886.2" y="2969.7" font-size="20.3" text-anchor="middle">May</text>
<text x="-0.6" y="3051.0" font-size="14.7" textLength="281.4" lengthAdjust="spacingAndGlyphs">No se muestra % de “Ninguna” y “NS/NC”</text>
<text x="-0.7" y="3080.2" font-size="15.6" textLength="91.6" lengthAdjust="spacingAndGlyphs">Metodología:</text>
<text x="-0.6" y="3098.7" font-size="15.6" textLength="1910.7" lengthAdjust="spacingAndGlyphs">Población sujeta a estudio: adultos, hombres y mujeres de 18 años y más que residen permanentemente en viviendas particulares del territorio nacional. Técnica de recolección de datos: entrevistas personales (cara a cara) en vivienda utilizando un cuestionario estructurado aplicado</text>
<text x="-0.3" y="3116.1" font-size="15.6" textLength="1848.2" lengthAdjust="spacingAndGlyphs">por encuestadores en dispositivos electrónicos. Cobertura geográfica: cobertura representativa a nivel nacional. Marco muestral: el marco muestral comprende la información contenida en las siguientes fuentes. Listado de secciones electorales del Catálogo de Información</text>
<text x="-0.1" y="3133.5" font-size="15.6" textLength="1880.0" lengthAdjust="spacingAndGlyphs">Geoelectoral (INE). Estadísticos de la lista nominal por manzana con cortes de sexo y edad (2023 INE). Catálogo de manzanas (AC 01 R, INE). Planos cartográficos por sección individual (INE). Diseño de la muestra: el diseño de la muestra es probabilístico (las unidades de selección</text>
<text x="0.4" y="3150.9" font-size="15.6" textLength="1907.6" lengthAdjust="spacingAndGlyphs">tienen una probabilidad conocida y distinta de cero de ser seleccionadas) y polietápico (la unidad última de muestreo es seleccionada en varias etapas). En la primera etapa se seleccionaron 100 secciones electorales con probabilidad proporcional al tamaño. El número de entrevistas</text>
<text x="-0.0" y="3168.3" font-size="15.6" textLength="1897.0" lengthAdjust="spacingAndGlyphs">en cada estrato se asignó de manera proporcional. En la segunda etapa, se seleccionaron en trabajo de gabinete dos puntos de arranque (manzanas en zonas urbanas o conglomerados de vivienda en zonas rurales) dentro de las secciones a través de un muestreo aleatorio simple y</text>
<text x="-0.0" y="3185.6" font-size="15.6" textLength="1909.0" lengthAdjust="spacingAndGlyphs">con la cartografía oficial del INE (planos por sección individual). En la tercera etapa, en el operativo de campo se seleccionaron cinco viviendas en cada punto de arranque mediante un salto sistemático y el método de espiral. En la cuarta etapa se seleccionó al entrevistado dentro del</text>
<text x="-0.4" y="3203.0" font-size="15.6" textLength="1877.3" lengthAdjust="spacingAndGlyphs">hogar con método de número aleatorio. Tamaño de la muestra: 1,000 entrevistas efectivas. Método de estimación de resultados: los resultados que se presentan son frecuencias ponderadas, cuyo ponderador es el producto de un factor muestral (definido como el inverso de la</text>
<text x="-0.3" y="3220.4" font-size="15.6" textLength="1909.2" lengthAdjust="spacingAndGlyphs">probabilidad de selección) y un factor de ajuste por desviaciones de sexo, edad, escolaridad y voto en la elección de diputados de 2021 por estrato de la muestra con respecto a las estadísticas del listado nominal y el Censo 2020 del Inegi (iterative proportional fitting raking. Margen</text>
<text x="-0.0" y="3237.8" font-size="15.6" textLength="1754.3" lengthAdjust="spacingAndGlyphs">de error: cada pregunta tiene su propio margen de error considerando un efecto de diseño de 1.3 los márgenes de error máximos de la encuesta son de 3.53 puntos porcentuales al 95 de confianza estadística. Periodo de referencia: del 11 al 17 de mayo de 2023.</text>
</svg>
</body></html>
